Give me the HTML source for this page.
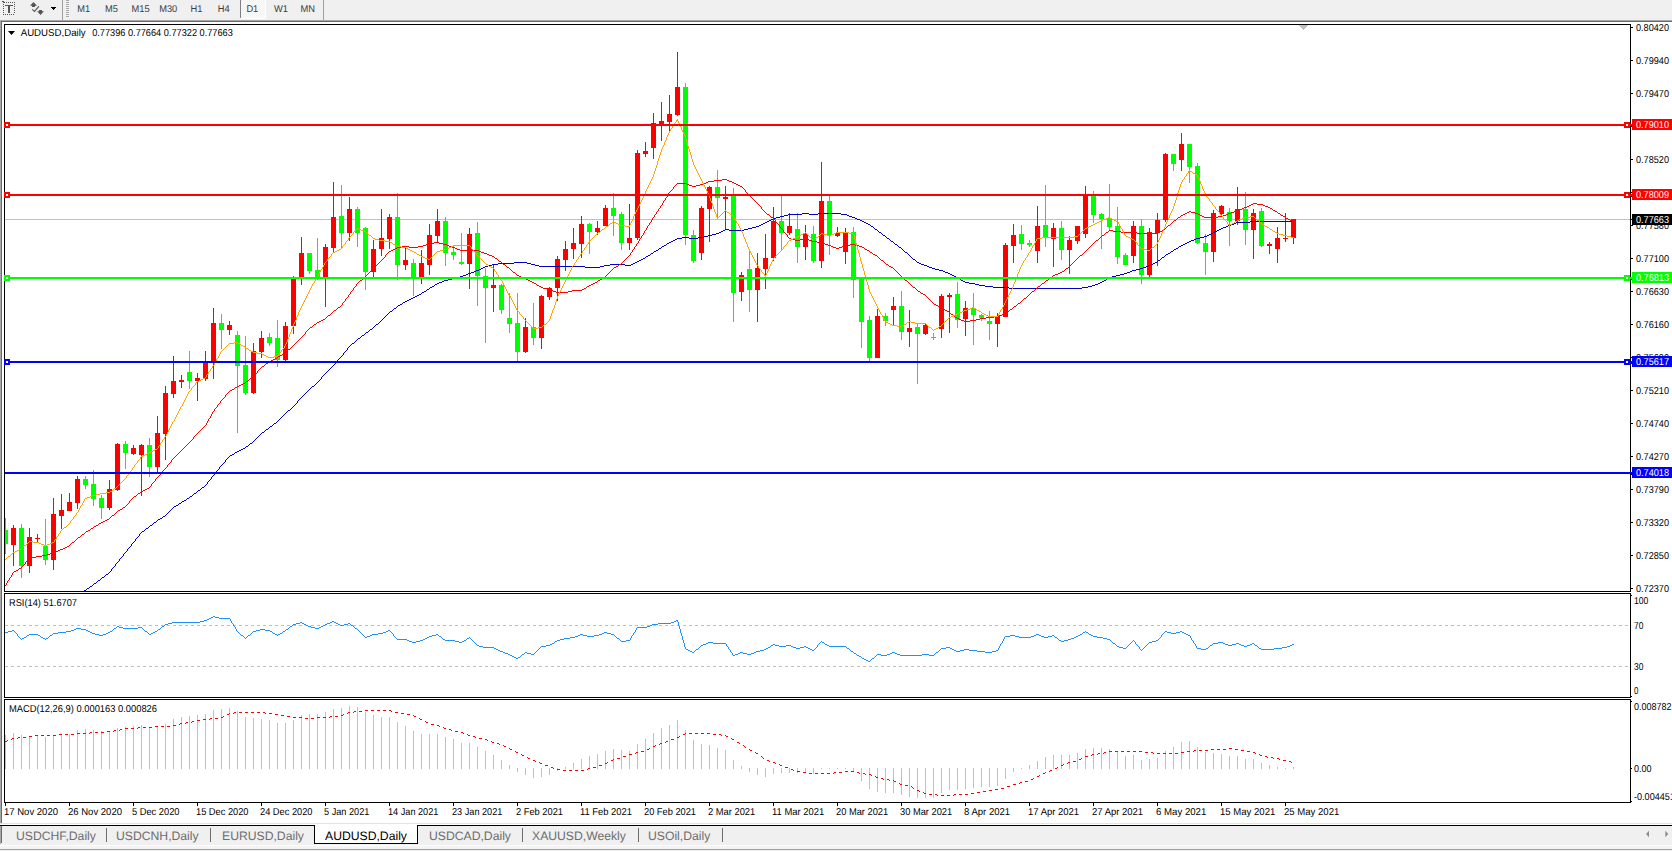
<!DOCTYPE html>
<html><head><meta charset="utf-8"><title>AUDUSD,Daily</title>
<style>
html,body{margin:0;padding:0;background:#fff}
body{width:1672px;height:851px;overflow:hidden;font-family:"Liberation Sans",sans-serif}
svg{display:block;font-family:"Liberation Sans",sans-serif}
</style></head><body>
<svg width="1672" height="851" viewBox="0 0 1672 851" shape-rendering="crispEdges" text-rendering="geometricPrecision">
<rect x="0" y="0" width="1672" height="851" fill="#fff"/>
<rect x="0" y="0" width="1672" height="20" fill="#f0f0f0"/>
<rect x="0" y="20" width="1672" height="1" fill="#a8a8a8"/>
<rect x="0" y="21" width="1672" height="1" fill="#6a6a6a"/>
<rect x="0" y="20" width="1" height="803" fill="#a8a8a8"/>
<rect x="1" y="21" width="1" height="802" fill="#6a6a6a"/>
<rect x="6" y="2" width="1" height="1" fill="#555"/>
<rect x="8" y="2" width="1" height="1" fill="#555"/>
<rect x="10" y="2" width="1" height="1" fill="#555"/>
<rect x="12" y="2" width="1" height="1" fill="#555"/>
<rect x="14" y="2" width="1" height="1" fill="#555"/>
<rect x="3" y="14" width="1" height="1" fill="#555"/>
<rect x="5" y="14" width="1" height="1" fill="#555"/>
<rect x="7" y="14" width="1" height="1" fill="#555"/>
<rect x="9" y="14" width="1" height="1" fill="#555"/>
<rect x="11" y="14" width="1" height="1" fill="#555"/>
<rect x="13" y="14" width="1" height="1" fill="#555"/>
<rect x="3" y="4" width="1" height="1" fill="#555"/>
<rect x="14" y="4" width="1" height="1" fill="#555"/>
<rect x="3" y="6" width="1" height="1" fill="#555"/>
<rect x="14" y="6" width="1" height="1" fill="#555"/>
<rect x="3" y="8" width="1" height="1" fill="#555"/>
<rect x="14" y="8" width="1" height="1" fill="#555"/>
<rect x="3" y="10" width="1" height="1" fill="#555"/>
<rect x="14" y="10" width="1" height="1" fill="#555"/>
<rect x="3" y="12" width="1" height="1" fill="#555"/>
<rect x="14" y="12" width="1" height="1" fill="#555"/>
<rect x="2" y="1" width="2" height="1" fill="#555"/>
<rect x="3" y="2" width="2" height="1" fill="#555"/>
<rect x="5" y="5" width="8" height="1" fill="#555"/>
<rect x="8" y="5" width="2" height="8" fill="#555"/>
<g shape-rendering="geometricPrecision">
<path d="M33.5 2 L37 5.8 L35 5.8 L35 7 L32 7 L32 5.8 L30 5.8 Z" fill="#555"/>
<path d="M40.5 15 L44 11.2 L42 11.2 L42 10 L39 10 L39 11.2 L37 11.2 Z" fill="#555"/>
<path d="M32.3 9.3 L34.5 11.4 L38.9 6.3" fill="none" stroke="#555" stroke-width="1.1"/>
</g>
<rect x="51" y="7" width="5" height="1" fill="#000"/>
<rect x="52" y="8" width="3" height="1" fill="#000"/>
<rect x="53" y="9" width="1" height="1" fill="#000"/>
<rect x="62" y="0" width="1" height="20" fill="#a0a0a0"/>
<rect x="66" y="0" width="3" height="1" fill="#a8a8a8"/>
<rect x="66" y="2" width="3" height="1" fill="#a8a8a8"/>
<rect x="66" y="4" width="3" height="1" fill="#a8a8a8"/>
<rect x="66" y="6" width="3" height="1" fill="#a8a8a8"/>
<rect x="66" y="8" width="3" height="1" fill="#a8a8a8"/>
<rect x="66" y="10" width="3" height="1" fill="#a8a8a8"/>
<rect x="66" y="12" width="3" height="1" fill="#a8a8a8"/>
<rect x="66" y="14" width="3" height="1" fill="#a8a8a8"/>
<rect x="66" y="16" width="3" height="1" fill="#a8a8a8"/>
<pattern id="chk" width="2" height="2" patternUnits="userSpaceOnUse"><rect width="2" height="2" fill="#f0f0f0"/><rect width="1" height="1" fill="#fff"/><rect x="1" y="1" width="1" height="1" fill="#fff"/></pattern>
<rect x="241" y="0" width="24" height="18" fill="url(#chk)"/>
<rect x="240" y="0" width="1" height="18" fill="#808080"/>
<rect x="240" y="18" width="26" height="1" fill="#fff"/>
<rect x="265" y="0" width="1" height="19" fill="#fff"/>
<text x="77.3" y="12" font-size="9.8" fill="#3c3c3c" text-anchor="start" textLength="12.9" lengthAdjust="spacingAndGlyphs">M1</text>
<text x="105.1" y="12" font-size="9.8" fill="#3c3c3c" text-anchor="start" textLength="12.9" lengthAdjust="spacingAndGlyphs">M5</text>
<text x="131.6" y="12" font-size="9.8" fill="#3c3c3c" text-anchor="start" textLength="18.1" lengthAdjust="spacingAndGlyphs">M15</text>
<text x="159.2" y="12" font-size="9.8" fill="#3c3c3c" text-anchor="start" textLength="18.1" lengthAdjust="spacingAndGlyphs">M30</text>
<text x="190.5" y="12" font-size="9.8" fill="#3c3c3c" text-anchor="start" textLength="11.9" lengthAdjust="spacingAndGlyphs">H1</text>
<text x="217.8" y="12" font-size="9.8" fill="#3c3c3c" text-anchor="start" textLength="11.9" lengthAdjust="spacingAndGlyphs">H4</text>
<text x="246.4" y="12" font-size="9.8" fill="#3c3c3c" text-anchor="start" textLength="11.9" lengthAdjust="spacingAndGlyphs">D1</text>
<text x="273.9" y="12" font-size="9.8" fill="#3c3c3c" text-anchor="start" textLength="14.0" lengthAdjust="spacingAndGlyphs">W1</text>
<text x="300.6" y="12" font-size="9.8" fill="#3c3c3c" text-anchor="start" textLength="14.5" lengthAdjust="spacingAndGlyphs">MN</text>
<rect x="323" y="0" width="1" height="20" fill="#a0a0a0"/>
<rect x="4" y="24" width="1627" height="1" fill="#000"/>
<rect x="4" y="591" width="1627" height="1" fill="#000"/>
<rect x="4" y="24" width="1" height="568" fill="#000"/>
<rect x="1630" y="24" width="1" height="568" fill="#000"/>
<rect x="4" y="593" width="1627" height="1" fill="#000"/>
<rect x="4" y="697" width="1627" height="1" fill="#000"/>
<rect x="4" y="593" width="1" height="105" fill="#000"/>
<rect x="1630" y="593" width="1" height="105" fill="#000"/>
<rect x="4" y="699" width="1627" height="1" fill="#000"/>
<rect x="4" y="802" width="1627" height="1" fill="#000"/>
<rect x="4" y="699" width="1" height="104" fill="#000"/>
<rect x="1630" y="699" width="1" height="104" fill="#000"/>
<rect x="1299" y="25" width="9" height="1" fill="#c0c0c0"/>
<rect x="1300" y="26" width="7" height="1" fill="#c0c0c0"/>
<rect x="1301" y="27" width="5" height="1" fill="#c0c0c0"/>
<rect x="1302" y="28" width="3" height="1" fill="#c0c0c0"/>
<rect x="1303" y="29" width="1" height="1" fill="#c0c0c0"/>
<rect x="1631" y="27" width="2" height="1" fill="#000"/>
<text x="1636" y="31" font-size="10" fill="#000" text-anchor="start" textLength="33" lengthAdjust="spacingAndGlyphs">0.80420</text>
<rect x="1631" y="60" width="2" height="1" fill="#000"/>
<text x="1636" y="64" font-size="10" fill="#000" text-anchor="start" textLength="33" lengthAdjust="spacingAndGlyphs">0.79940</text>
<rect x="1631" y="93" width="2" height="1" fill="#000"/>
<text x="1636" y="97" font-size="10" fill="#000" text-anchor="start" textLength="33" lengthAdjust="spacingAndGlyphs">0.79470</text>
<rect x="1631" y="126" width="2" height="1" fill="#000"/>
<text x="1636" y="130" font-size="10" fill="#000" text-anchor="start" textLength="33" lengthAdjust="spacingAndGlyphs">0.78990</text>
<rect x="1631" y="159" width="2" height="1" fill="#000"/>
<text x="1636" y="163" font-size="10" fill="#000" text-anchor="start" textLength="33" lengthAdjust="spacingAndGlyphs">0.78520</text>
<rect x="1631" y="192" width="2" height="1" fill="#000"/>
<text x="1636" y="196" font-size="10" fill="#000" text-anchor="start" textLength="33" lengthAdjust="spacingAndGlyphs">0.78050</text>
<rect x="1631" y="225" width="2" height="1" fill="#000"/>
<text x="1636" y="229" font-size="10" fill="#000" text-anchor="start" textLength="33" lengthAdjust="spacingAndGlyphs">0.77580</text>
<rect x="1631" y="258" width="2" height="1" fill="#000"/>
<text x="1636" y="262" font-size="10" fill="#000" text-anchor="start" textLength="33" lengthAdjust="spacingAndGlyphs">0.77100</text>
<rect x="1631" y="291" width="2" height="1" fill="#000"/>
<text x="1636" y="295" font-size="10" fill="#000" text-anchor="start" textLength="33" lengthAdjust="spacingAndGlyphs">0.76630</text>
<rect x="1631" y="324" width="2" height="1" fill="#000"/>
<text x="1636" y="328" font-size="10" fill="#000" text-anchor="start" textLength="33" lengthAdjust="spacingAndGlyphs">0.76160</text>
<rect x="1631" y="357" width="2" height="1" fill="#000"/>
<text x="1636" y="361" font-size="10" fill="#000" text-anchor="start" textLength="33" lengthAdjust="spacingAndGlyphs">0.75690</text>
<rect x="1631" y="390" width="2" height="1" fill="#000"/>
<text x="1636" y="394" font-size="10" fill="#000" text-anchor="start" textLength="33" lengthAdjust="spacingAndGlyphs">0.75210</text>
<rect x="1631" y="423" width="2" height="1" fill="#000"/>
<text x="1636" y="427" font-size="10" fill="#000" text-anchor="start" textLength="33" lengthAdjust="spacingAndGlyphs">0.74740</text>
<rect x="1631" y="456" width="2" height="1" fill="#000"/>
<text x="1636" y="460" font-size="10" fill="#000" text-anchor="start" textLength="33" lengthAdjust="spacingAndGlyphs">0.74270</text>
<rect x="1631" y="489" width="2" height="1" fill="#000"/>
<text x="1636" y="493" font-size="10" fill="#000" text-anchor="start" textLength="33" lengthAdjust="spacingAndGlyphs">0.73790</text>
<rect x="1631" y="522" width="2" height="1" fill="#000"/>
<text x="1636" y="526" font-size="10" fill="#000" text-anchor="start" textLength="33" lengthAdjust="spacingAndGlyphs">0.73320</text>
<rect x="1631" y="555" width="2" height="1" fill="#000"/>
<text x="1636" y="559" font-size="10" fill="#000" text-anchor="start" textLength="33" lengthAdjust="spacingAndGlyphs">0.72850</text>
<rect x="1631" y="588" width="2" height="1" fill="#000"/>
<text x="1636" y="592" font-size="10" fill="#000" text-anchor="start" textLength="33" lengthAdjust="spacingAndGlyphs">0.72370</text>
<clipPath id="cm"><rect x="5" y="25" width="1625" height="566"/></clipPath>
<g clip-path="url(#cm)">
<rect x="5" y="219" width="1625" height="1" fill="#c0c0c0"/>
<rect x="5" y="518" width="1" height="36" fill="#00ff00"/>
<rect x="3" y="530" width="5" height="14" fill="#00ff00"/>
<rect x="13" y="525" width="1" height="41" fill="#ff0000"/>
<rect x="11" y="528" width="5" height="17" fill="#ff0000"/>
<rect x="21" y="524" width="1" height="54" fill="#00ff00"/>
<rect x="19" y="528" width="5" height="38" fill="#00ff00"/>
<rect x="29" y="528" width="1" height="45" fill="#ff0000"/>
<rect x="27" y="537" width="5" height="29" fill="#ff0000"/>
<rect x="37" y="534" width="1" height="8" fill="#ff0000"/>
<rect x="35" y="538" width="5" height="1" fill="#ff0000"/>
<rect x="45" y="519" width="1" height="46" fill="#00ff00"/>
<rect x="43" y="546" width="5" height="14" fill="#00ff00"/>
<rect x="53" y="498" width="1" height="72" fill="#ff0000"/>
<rect x="51" y="514" width="5" height="46" fill="#ff0000"/>
<rect x="61" y="494" width="1" height="35" fill="#ff0000"/>
<rect x="59" y="510" width="5" height="6" fill="#ff0000"/>
<rect x="69" y="493" width="1" height="18" fill="#ff0000"/>
<rect x="67" y="502" width="5" height="9" fill="#ff0000"/>
<rect x="77" y="476" width="1" height="33" fill="#ff0000"/>
<rect x="75" y="479" width="5" height="24" fill="#ff0000"/>
<rect x="85" y="476" width="1" height="13" fill="#00ff00"/>
<rect x="83" y="479" width="5" height="6" fill="#00ff00"/>
<rect x="93" y="470" width="1" height="36" fill="#00ff00"/>
<rect x="91" y="484" width="5" height="15" fill="#00ff00"/>
<rect x="101" y="495" width="1" height="24" fill="#00ff00"/>
<rect x="99" y="498" width="5" height="10" fill="#00ff00"/>
<rect x="109" y="480" width="1" height="30" fill="#ff0000"/>
<rect x="107" y="489" width="5" height="19" fill="#ff0000"/>
<rect x="117" y="443" width="1" height="48" fill="#ff0000"/>
<rect x="115" y="444" width="5" height="46" fill="#ff0000"/>
<rect x="125" y="441" width="1" height="28" fill="#00ff00"/>
<rect x="123" y="444" width="5" height="9" fill="#00ff00"/>
<rect x="133" y="445" width="1" height="10" fill="#ff0000"/>
<rect x="131" y="448" width="5" height="6" fill="#ff0000"/>
<rect x="141" y="444" width="1" height="52" fill="#ff0000"/>
<rect x="139" y="445" width="5" height="10" fill="#ff0000"/>
<rect x="149" y="438" width="1" height="39" fill="#00ff00"/>
<rect x="147" y="445" width="5" height="22" fill="#00ff00"/>
<rect x="157" y="416" width="1" height="57" fill="#ff0000"/>
<rect x="155" y="433" width="5" height="34" fill="#ff0000"/>
<rect x="165" y="386" width="1" height="74" fill="#ff0000"/>
<rect x="163" y="393" width="5" height="41" fill="#ff0000"/>
<rect x="173" y="356" width="1" height="42" fill="#ff0000"/>
<rect x="171" y="381" width="5" height="13" fill="#ff0000"/>
<rect x="181" y="375" width="1" height="13" fill="#ff0000"/>
<rect x="179" y="380" width="5" height="2" fill="#ff0000"/>
<rect x="189" y="351" width="1" height="38" fill="#00ff00"/>
<rect x="187" y="372" width="5" height="9" fill="#00ff00"/>
<rect x="197" y="373" width="1" height="28" fill="#ff0000"/>
<rect x="195" y="378" width="5" height="3" fill="#ff0000"/>
<rect x="205" y="351" width="1" height="30" fill="#ff0000"/>
<rect x="203" y="362" width="5" height="17" fill="#ff0000"/>
<rect x="213" y="308" width="1" height="71" fill="#ff0000"/>
<rect x="211" y="323" width="5" height="39" fill="#ff0000"/>
<rect x="221" y="314" width="1" height="35" fill="#00ff00"/>
<rect x="219" y="323" width="5" height="7" fill="#00ff00"/>
<rect x="229" y="321" width="1" height="14" fill="#ff0000"/>
<rect x="227" y="325" width="5" height="5" fill="#ff0000"/>
<rect x="237" y="331" width="1" height="102" fill="#00ff00"/>
<rect x="235" y="335" width="5" height="31" fill="#00ff00"/>
<rect x="245" y="336" width="1" height="59" fill="#00ff00"/>
<rect x="243" y="365" width="5" height="28" fill="#00ff00"/>
<rect x="253" y="343" width="1" height="51" fill="#ff0000"/>
<rect x="251" y="351" width="5" height="42" fill="#ff0000"/>
<rect x="261" y="331" width="1" height="27" fill="#ff0000"/>
<rect x="259" y="338" width="5" height="14" fill="#ff0000"/>
<rect x="269" y="333" width="1" height="13" fill="#00ff00"/>
<rect x="267" y="337" width="5" height="6" fill="#00ff00"/>
<rect x="277" y="320" width="1" height="47" fill="#00ff00"/>
<rect x="275" y="338" width="5" height="22" fill="#00ff00"/>
<rect x="285" y="322" width="1" height="39" fill="#ff0000"/>
<rect x="283" y="326" width="5" height="34" fill="#ff0000"/>
<rect x="293" y="276" width="1" height="58" fill="#ff0000"/>
<rect x="291" y="277" width="5" height="49" fill="#ff0000"/>
<rect x="301" y="237" width="1" height="48" fill="#ff0000"/>
<rect x="299" y="253" width="5" height="25" fill="#ff0000"/>
<rect x="309" y="253" width="1" height="21" fill="#00ff00"/>
<rect x="307" y="253" width="5" height="18" fill="#00ff00"/>
<rect x="317" y="238" width="1" height="42" fill="#00ff00"/>
<rect x="315" y="270" width="5" height="9" fill="#00ff00"/>
<rect x="325" y="244" width="1" height="63" fill="#ff0000"/>
<rect x="323" y="247" width="5" height="31" fill="#ff0000"/>
<rect x="333" y="182" width="1" height="70" fill="#ff0000"/>
<rect x="331" y="217" width="5" height="31" fill="#ff0000"/>
<rect x="341" y="185" width="1" height="64" fill="#00ff00"/>
<rect x="339" y="216" width="5" height="17" fill="#00ff00"/>
<rect x="349" y="197" width="1" height="44" fill="#ff0000"/>
<rect x="347" y="209" width="5" height="24" fill="#ff0000"/>
<rect x="357" y="207" width="1" height="40" fill="#00ff00"/>
<rect x="355" y="209" width="5" height="24" fill="#00ff00"/>
<rect x="365" y="227" width="1" height="63" fill="#00ff00"/>
<rect x="363" y="228" width="5" height="44" fill="#00ff00"/>
<rect x="373" y="240" width="1" height="37" fill="#ff0000"/>
<rect x="371" y="249" width="5" height="23" fill="#ff0000"/>
<rect x="381" y="209" width="1" height="47" fill="#ff0000"/>
<rect x="379" y="238" width="5" height="11" fill="#ff0000"/>
<rect x="389" y="214" width="1" height="35" fill="#ff0000"/>
<rect x="387" y="217" width="5" height="22" fill="#ff0000"/>
<rect x="397" y="193" width="1" height="87" fill="#00ff00"/>
<rect x="395" y="217" width="5" height="48" fill="#00ff00"/>
<rect x="405" y="248" width="1" height="22" fill="#ff0000"/>
<rect x="403" y="260" width="5" height="5" fill="#ff0000"/>
<rect x="413" y="259" width="1" height="37" fill="#00ff00"/>
<rect x="411" y="263" width="5" height="15" fill="#00ff00"/>
<rect x="421" y="250" width="1" height="34" fill="#ff0000"/>
<rect x="419" y="263" width="5" height="15" fill="#ff0000"/>
<rect x="429" y="224" width="1" height="51" fill="#ff0000"/>
<rect x="427" y="235" width="5" height="30" fill="#ff0000"/>
<rect x="437" y="209" width="1" height="34" fill="#ff0000"/>
<rect x="435" y="221" width="5" height="15" fill="#ff0000"/>
<rect x="445" y="217" width="1" height="49" fill="#00ff00"/>
<rect x="443" y="221" width="5" height="32" fill="#00ff00"/>
<rect x="453" y="245" width="1" height="15" fill="#00ff00"/>
<rect x="451" y="252" width="5" height="3" fill="#00ff00"/>
<rect x="461" y="233" width="1" height="32" fill="#00ff00"/>
<rect x="459" y="262" width="5" height="2" fill="#00ff00"/>
<rect x="469" y="228" width="1" height="61" fill="#ff0000"/>
<rect x="467" y="234" width="5" height="30" fill="#ff0000"/>
<rect x="477" y="222" width="1" height="84" fill="#00ff00"/>
<rect x="475" y="233" width="5" height="43" fill="#00ff00"/>
<rect x="485" y="268" width="1" height="75" fill="#00ff00"/>
<rect x="483" y="276" width="5" height="12" fill="#00ff00"/>
<rect x="493" y="264" width="1" height="48" fill="#ff0000"/>
<rect x="491" y="285" width="5" height="3" fill="#ff0000"/>
<rect x="501" y="284" width="1" height="30" fill="#00ff00"/>
<rect x="499" y="285" width="5" height="25" fill="#00ff00"/>
<rect x="509" y="293" width="1" height="40" fill="#00ff00"/>
<rect x="507" y="318" width="5" height="6" fill="#00ff00"/>
<rect x="517" y="293" width="1" height="68" fill="#00ff00"/>
<rect x="515" y="323" width="5" height="29" fill="#00ff00"/>
<rect x="525" y="318" width="1" height="35" fill="#ff0000"/>
<rect x="523" y="327" width="5" height="25" fill="#ff0000"/>
<rect x="533" y="303" width="1" height="42" fill="#00ff00"/>
<rect x="531" y="327" width="5" height="11" fill="#00ff00"/>
<rect x="541" y="295" width="1" height="54" fill="#ff0000"/>
<rect x="539" y="296" width="5" height="42" fill="#ff0000"/>
<rect x="549" y="287" width="1" height="13" fill="#ff0000"/>
<rect x="547" y="288" width="5" height="9" fill="#ff0000"/>
<rect x="557" y="256" width="1" height="45" fill="#ff0000"/>
<rect x="555" y="259" width="5" height="29" fill="#ff0000"/>
<rect x="565" y="241" width="1" height="30" fill="#ff0000"/>
<rect x="563" y="249" width="5" height="11" fill="#ff0000"/>
<rect x="573" y="228" width="1" height="31" fill="#ff0000"/>
<rect x="571" y="243" width="5" height="6" fill="#ff0000"/>
<rect x="581" y="216" width="1" height="42" fill="#ff0000"/>
<rect x="579" y="224" width="5" height="20" fill="#ff0000"/>
<rect x="589" y="223" width="1" height="31" fill="#00ff00"/>
<rect x="587" y="224" width="5" height="8" fill="#00ff00"/>
<rect x="597" y="221" width="1" height="14" fill="#ff0000"/>
<rect x="595" y="228" width="5" height="4" fill="#ff0000"/>
<rect x="605" y="205" width="1" height="21" fill="#ff0000"/>
<rect x="603" y="208" width="5" height="18" fill="#ff0000"/>
<rect x="613" y="193" width="1" height="43" fill="#00ff00"/>
<rect x="611" y="208" width="5" height="8" fill="#00ff00"/>
<rect x="621" y="212" width="1" height="38" fill="#00ff00"/>
<rect x="619" y="214" width="5" height="29" fill="#00ff00"/>
<rect x="629" y="204" width="1" height="46" fill="#ff0000"/>
<rect x="627" y="238" width="5" height="5" fill="#ff0000"/>
<rect x="637" y="150" width="1" height="90" fill="#ff0000"/>
<rect x="635" y="153" width="5" height="85" fill="#ff0000"/>
<rect x="645" y="142" width="1" height="15" fill="#ff0000"/>
<rect x="643" y="151" width="5" height="3" fill="#ff0000"/>
<rect x="653" y="113" width="1" height="46" fill="#ff0000"/>
<rect x="651" y="123" width="5" height="25" fill="#ff0000"/>
<rect x="661" y="102" width="1" height="39" fill="#ff0000"/>
<rect x="659" y="121" width="5" height="3" fill="#ff0000"/>
<rect x="669" y="95" width="1" height="36" fill="#ff0000"/>
<rect x="667" y="114" width="5" height="8" fill="#ff0000"/>
<rect x="677" y="52" width="1" height="64" fill="#ff0000"/>
<rect x="675" y="87" width="5" height="28" fill="#ff0000"/>
<rect x="685" y="83" width="1" height="162" fill="#00ff00"/>
<rect x="683" y="87" width="5" height="148" fill="#00ff00"/>
<rect x="693" y="230" width="1" height="33" fill="#00ff00"/>
<rect x="691" y="235" width="5" height="26" fill="#00ff00"/>
<rect x="701" y="206" width="1" height="54" fill="#ff0000"/>
<rect x="699" y="208" width="5" height="45" fill="#ff0000"/>
<rect x="709" y="186" width="1" height="56" fill="#ff0000"/>
<rect x="707" y="187" width="5" height="22" fill="#ff0000"/>
<rect x="717" y="170" width="1" height="49" fill="#00ff00"/>
<rect x="715" y="187" width="5" height="11" fill="#00ff00"/>
<rect x="725" y="186" width="1" height="43" fill="#ff0000"/>
<rect x="723" y="197" width="5" height="2" fill="#ff0000"/>
<rect x="733" y="188" width="1" height="134" fill="#00ff00"/>
<rect x="731" y="195" width="5" height="98" fill="#00ff00"/>
<rect x="741" y="272" width="1" height="29" fill="#ff0000"/>
<rect x="739" y="275" width="5" height="17" fill="#ff0000"/>
<rect x="749" y="251" width="1" height="61" fill="#00ff00"/>
<rect x="747" y="269" width="5" height="21" fill="#00ff00"/>
<rect x="757" y="253" width="1" height="69" fill="#ff0000"/>
<rect x="755" y="268" width="5" height="22" fill="#ff0000"/>
<rect x="765" y="234" width="1" height="55" fill="#ff0000"/>
<rect x="763" y="258" width="5" height="11" fill="#ff0000"/>
<rect x="773" y="207" width="1" height="54" fill="#ff0000"/>
<rect x="771" y="221" width="5" height="37" fill="#ff0000"/>
<rect x="781" y="196" width="1" height="54" fill="#00ff00"/>
<rect x="779" y="221" width="5" height="12" fill="#00ff00"/>
<rect x="789" y="213" width="1" height="22" fill="#ff0000"/>
<rect x="787" y="226" width="5" height="7" fill="#ff0000"/>
<rect x="797" y="213" width="1" height="50" fill="#00ff00"/>
<rect x="795" y="229" width="5" height="18" fill="#00ff00"/>
<rect x="805" y="225" width="1" height="35" fill="#ff0000"/>
<rect x="803" y="234" width="5" height="13" fill="#ff0000"/>
<rect x="813" y="226" width="1" height="37" fill="#00ff00"/>
<rect x="811" y="234" width="5" height="27" fill="#00ff00"/>
<rect x="821" y="162" width="1" height="106" fill="#ff0000"/>
<rect x="819" y="201" width="5" height="60" fill="#ff0000"/>
<rect x="829" y="196" width="1" height="59" fill="#00ff00"/>
<rect x="827" y="201" width="5" height="34" fill="#00ff00"/>
<rect x="837" y="227" width="1" height="10" fill="#ff0000"/>
<rect x="835" y="233" width="5" height="3" fill="#ff0000"/>
<rect x="845" y="228" width="1" height="36" fill="#ff0000"/>
<rect x="843" y="233" width="5" height="19" fill="#ff0000"/>
<rect x="853" y="227" width="1" height="71" fill="#00ff00"/>
<rect x="851" y="232" width="5" height="48" fill="#00ff00"/>
<rect x="861" y="278" width="1" height="70" fill="#00ff00"/>
<rect x="859" y="278" width="5" height="44" fill="#00ff00"/>
<rect x="869" y="316" width="1" height="45" fill="#00ff00"/>
<rect x="867" y="320" width="5" height="38" fill="#00ff00"/>
<rect x="877" y="309" width="1" height="49" fill="#ff0000"/>
<rect x="875" y="316" width="5" height="42" fill="#ff0000"/>
<rect x="885" y="313" width="1" height="13" fill="#00ff00"/>
<rect x="883" y="316" width="5" height="5" fill="#00ff00"/>
<rect x="893" y="297" width="1" height="28" fill="#ff0000"/>
<rect x="891" y="306" width="5" height="4" fill="#ff0000"/>
<rect x="901" y="291" width="1" height="49" fill="#00ff00"/>
<rect x="899" y="306" width="5" height="26" fill="#00ff00"/>
<rect x="909" y="310" width="1" height="37" fill="#ff0000"/>
<rect x="907" y="328" width="5" height="4" fill="#ff0000"/>
<rect x="917" y="323" width="1" height="61" fill="#00ff00"/>
<rect x="915" y="327" width="5" height="7" fill="#00ff00"/>
<rect x="925" y="323" width="1" height="12" fill="#ff0000"/>
<rect x="923" y="325" width="5" height="9" fill="#ff0000"/>
<rect x="933" y="333" width="1" height="7" fill="#00ff00"/>
<rect x="931" y="337" width="5" height="1" fill="#00ff00"/>
<rect x="941" y="294" width="1" height="44" fill="#ff0000"/>
<rect x="939" y="296" width="5" height="33" fill="#ff0000"/>
<rect x="949" y="293" width="1" height="40" fill="#ff0000"/>
<rect x="947" y="295" width="5" height="2" fill="#ff0000"/>
<rect x="957" y="282" width="1" height="46" fill="#00ff00"/>
<rect x="955" y="294" width="5" height="26" fill="#00ff00"/>
<rect x="965" y="301" width="1" height="35" fill="#ff0000"/>
<rect x="963" y="308" width="5" height="11" fill="#ff0000"/>
<rect x="973" y="293" width="1" height="52" fill="#00ff00"/>
<rect x="971" y="308" width="5" height="7" fill="#00ff00"/>
<rect x="981" y="314" width="1" height="7" fill="#00ff00"/>
<rect x="979" y="315" width="5" height="3" fill="#00ff00"/>
<rect x="989" y="311" width="1" height="29" fill="#00ff00"/>
<rect x="987" y="321" width="5" height="3" fill="#00ff00"/>
<rect x="997" y="313" width="1" height="34" fill="#ff0000"/>
<rect x="995" y="316" width="5" height="8" fill="#ff0000"/>
<rect x="1005" y="243" width="1" height="74" fill="#ff0000"/>
<rect x="1003" y="245" width="5" height="72" fill="#ff0000"/>
<rect x="1013" y="224" width="1" height="39" fill="#ff0000"/>
<rect x="1011" y="235" width="5" height="11" fill="#ff0000"/>
<rect x="1021" y="225" width="1" height="25" fill="#00ff00"/>
<rect x="1019" y="234" width="5" height="10" fill="#00ff00"/>
<rect x="1029" y="240" width="1" height="7" fill="#00ff00"/>
<rect x="1027" y="243" width="5" height="2" fill="#00ff00"/>
<rect x="1037" y="206" width="1" height="57" fill="#ff0000"/>
<rect x="1035" y="226" width="5" height="25" fill="#ff0000"/>
<rect x="1045" y="185" width="1" height="62" fill="#00ff00"/>
<rect x="1043" y="225" width="5" height="12" fill="#00ff00"/>
<rect x="1053" y="223" width="1" height="44" fill="#ff0000"/>
<rect x="1051" y="228" width="5" height="11" fill="#ff0000"/>
<rect x="1061" y="221" width="1" height="39" fill="#00ff00"/>
<rect x="1059" y="228" width="5" height="22" fill="#00ff00"/>
<rect x="1069" y="236" width="1" height="38" fill="#ff0000"/>
<rect x="1067" y="240" width="5" height="10" fill="#ff0000"/>
<rect x="1077" y="226" width="1" height="18" fill="#ff0000"/>
<rect x="1075" y="226" width="5" height="15" fill="#ff0000"/>
<rect x="1085" y="186" width="1" height="52" fill="#ff0000"/>
<rect x="1083" y="195" width="5" height="39" fill="#ff0000"/>
<rect x="1093" y="191" width="1" height="32" fill="#00ff00"/>
<rect x="1091" y="196" width="5" height="19" fill="#00ff00"/>
<rect x="1101" y="213" width="1" height="36" fill="#00ff00"/>
<rect x="1099" y="214" width="5" height="5" fill="#00ff00"/>
<rect x="1109" y="184" width="1" height="47" fill="#00ff00"/>
<rect x="1107" y="218" width="5" height="9" fill="#00ff00"/>
<rect x="1117" y="207" width="1" height="57" fill="#00ff00"/>
<rect x="1115" y="226" width="5" height="31" fill="#00ff00"/>
<rect x="1125" y="253" width="1" height="12" fill="#00ff00"/>
<rect x="1123" y="255" width="5" height="10" fill="#00ff00"/>
<rect x="1133" y="221" width="1" height="42" fill="#ff0000"/>
<rect x="1131" y="226" width="5" height="30" fill="#ff0000"/>
<rect x="1141" y="219" width="1" height="65" fill="#00ff00"/>
<rect x="1139" y="226" width="5" height="49" fill="#00ff00"/>
<rect x="1149" y="228" width="1" height="49" fill="#ff0000"/>
<rect x="1147" y="232" width="5" height="43" fill="#ff0000"/>
<rect x="1157" y="213" width="1" height="53" fill="#ff0000"/>
<rect x="1155" y="220" width="5" height="13" fill="#ff0000"/>
<rect x="1165" y="153" width="1" height="69" fill="#ff0000"/>
<rect x="1163" y="154" width="5" height="66" fill="#ff0000"/>
<rect x="1173" y="154" width="1" height="17" fill="#00ff00"/>
<rect x="1171" y="154" width="5" height="10" fill="#00ff00"/>
<rect x="1181" y="133" width="1" height="38" fill="#ff0000"/>
<rect x="1179" y="144" width="5" height="16" fill="#ff0000"/>
<rect x="1189" y="144" width="1" height="39" fill="#00ff00"/>
<rect x="1187" y="144" width="5" height="23" fill="#00ff00"/>
<rect x="1197" y="163" width="1" height="81" fill="#00ff00"/>
<rect x="1195" y="166" width="5" height="77" fill="#00ff00"/>
<rect x="1205" y="234" width="1" height="41" fill="#00ff00"/>
<rect x="1203" y="243" width="5" height="9" fill="#00ff00"/>
<rect x="1213" y="210" width="1" height="52" fill="#ff0000"/>
<rect x="1211" y="213" width="5" height="39" fill="#ff0000"/>
<rect x="1221" y="205" width="1" height="11" fill="#ff0000"/>
<rect x="1219" y="206" width="5" height="8" fill="#ff0000"/>
<rect x="1229" y="208" width="1" height="38" fill="#00ff00"/>
<rect x="1227" y="212" width="5" height="9" fill="#00ff00"/>
<rect x="1237" y="187" width="1" height="38" fill="#ff0000"/>
<rect x="1235" y="209" width="5" height="12" fill="#ff0000"/>
<rect x="1245" y="192" width="1" height="53" fill="#00ff00"/>
<rect x="1243" y="209" width="5" height="21" fill="#00ff00"/>
<rect x="1253" y="209" width="1" height="50" fill="#ff0000"/>
<rect x="1251" y="213" width="5" height="17" fill="#ff0000"/>
<rect x="1261" y="208" width="1" height="39" fill="#00ff00"/>
<rect x="1259" y="211" width="5" height="35" fill="#00ff00"/>
<rect x="1269" y="242" width="1" height="12" fill="#ff0000"/>
<rect x="1267" y="244" width="5" height="2" fill="#ff0000"/>
<rect x="1277" y="227" width="1" height="36" fill="#ff0000"/>
<rect x="1275" y="238" width="5" height="11" fill="#ff0000"/>
<rect x="1285" y="213" width="1" height="29" fill="#ff0000"/>
<rect x="1283" y="238" width="5" height="1" fill="#ff0000"/>
<rect x="1293" y="219" width="1" height="25" fill="#ff0000"/>
<rect x="1291" y="219" width="5" height="19" fill="#ff0000"/>
<path d="M802 213.5h7M818 213.5h23M788 214.5h14M809 214.5h9M841 214.5h6M784 215.5h4M847 215.5h2M780 216.5h4M849 216.5h3M776 217.5h4M852 217.5h3M773 218.5h3M855 218.5h2M771 219.5h2M857 219.5h3M769 220.5h2M860 220.5h2M767 221.5h2M862 221.5h2M1250 221.5h44M765 222.5h2M864 222.5h2M1236 222.5h14M763 223.5h2M866 223.5h2M1234 223.5h2M761 224.5h2M868 224.5h2M1231 224.5h3M759 225.5h2M1228 225.5h3M756 226.5h3M871 226.5h2M1226 226.5h2M752 227.5h4M1223 227.5h3M748 228.5h4M1221 228.5h2M725 229.5h4M744 229.5h4M875 229.5h2M1219 229.5h2M723 230.5h2M729 230.5h15M1217 230.5h2M721 231.5h2M1215 231.5h2M719 232.5h2M879 232.5h2M1213 232.5h2M716 233.5h3M1211 233.5h2M712 234.5h4M1209 234.5h2M708 235.5h4M883 235.5h2M1207 235.5h2M704 236.5h4M1204 236.5h3M682 237.5h7M698 237.5h6M1200 237.5h4M677 238.5h5M689 238.5h9M887 238.5h2M1196 238.5h4M675 239.5h2M1194 239.5h2M673 240.5h2M1191 240.5h3M671 241.5h2M891 241.5h2M1189 241.5h2M669 242.5h2M1187 242.5h2M667 243.5h2M1185 243.5h2M895 244.5h2M1183 244.5h2M664 245.5h2M1181 245.5h2M662 246.5h2M1179 246.5h2M899 247.5h2M659 248.5h2M1176 248.5h2M1174 249.5h2M656 250.5h2M654 251.5h2M1171 251.5h2M905 252.5h2M651 253.5h2M1168 253.5h2M1166 254.5h2M648 255.5h2M646 256.5h2M1162 257.5h2M643 258.5h2M641 259.5h2M913 259.5h2M639 260.5h2M1158 260.5h2M637 261.5h2M514 262.5h13M635 262.5h2M917 262.5h2M1155 262.5h2M498 263.5h16M527 263.5h4M633 263.5h2M919 263.5h2M1153 263.5h2M492 264.5h6M531 264.5h4M610 264.5h15M631 264.5h2M921 264.5h3M1151 264.5h2M488 265.5h4M535 265.5h4M604 265.5h6M625 265.5h6M924 265.5h3M1148 265.5h3M485 266.5h3M539 266.5h46M600 266.5h4M927 266.5h2M1146 266.5h2M483 267.5h2M585 267.5h15M929 267.5h3M1143 267.5h3M481 268.5h2M932 268.5h3M1140 268.5h3M479 269.5h2M935 269.5h4M1136 269.5h4M476 270.5h3M939 270.5h4M1132 270.5h4M474 271.5h2M943 271.5h2M1130 271.5h2M471 272.5h3M945 272.5h3M1127 272.5h3M468 273.5h3M948 273.5h2M1124 273.5h3M466 274.5h2M950 274.5h2M1120 274.5h4M463 275.5h3M952 275.5h2M1116 275.5h4M460 276.5h3M954 276.5h2M1112 276.5h4M456 277.5h4M956 277.5h2M1109 277.5h3M452 278.5h4M958 278.5h2M1107 278.5h2M448 279.5h4M444 280.5h4M961 280.5h2M1104 280.5h2M442 281.5h2M963 281.5h2M1102 281.5h2M439 282.5h3M965 282.5h4M1100 282.5h2M437 283.5h2M969 283.5h6M1098 283.5h2M435 284.5h2M975 284.5h4M1095 284.5h3M979 285.5h6M1092 285.5h3M432 286.5h2M985 286.5h8M1088 286.5h4M430 287.5h2M993 287.5h16M1082 287.5h6M1009 288.5h73M427 289.5h2M424 291.5h2M422 292.5h2M419 294.5h2M417 295.5h2M415 296.5h2M413 297.5h2M411 298.5h2M409 299.5h2M407 300.5h2M405 301.5h2M403 302.5h2M400 304.5h2M398 305.5h2M394 308.5h2M390 311.5h2M376 324.5h2M370 329.5h2M366 332.5h2M362 335.5h2M358 338.5h2M352 343.5h2M312 386.5h2M288 410.5h2M274 423.5h2M270 426.5h2M266 429.5h2M262 432.5h2M250 443.5h2M246 446.5h2M243 448.5h2M241 449.5h2M239 450.5h2M237 451.5h2M235 452.5h2M232 454.5h2M230 455.5h2M202 487.5h2M198 490.5h2M194 493.5h2M190 496.5h2M187 498.5h2M184 500.5h2M182 501.5h2M179 503.5h2M176 505.5h2M174 506.5h2M163 516.5h2M160 518.5h2M158 519.5h2M154 522.5h2M150 525.5h2M146 528.5h2M142 531.5h2M106 574.5h2M102 577.5h2M98 580.5h2M94 583.5h2M90 586.5h2M87 588.5h2M84 590.5h2M86.5 589v1M89.5 587v1M92.5 585v1M93.5 584v1M96.5 582v1M97.5 581v1M100.5 579v1M101.5 578v1M104.5 576v1M105.5 575v1M108.5 573v1M109.5 572v1M110.5 571v1M111.5 569v2M112.5 568v1M113.5 567v1M114.5 566v1M115.5 564v2M116.5 563v1M117.5 562v1M118.5 561v1M119.5 559v2M120.5 558v1M121.5 557v1M122.5 556v1M123.5 554v2M124.5 553v1M125.5 552v1M126.5 551v1M127.5 549v2M128.5 548v1M129.5 547v1M130.5 546v1M131.5 544v2M132.5 543v1M133.5 542v1M134.5 541v1M135.5 539v2M136.5 538v1M137.5 537v1M138.5 536v1M139.5 534v2M140.5 533v1M141.5 532v1M144.5 530v1M145.5 529v1M148.5 527v1M149.5 526v1M152.5 524v1M153.5 523v1M156.5 521v1M157.5 520v1M162.5 517v1M165.5 515v1M166.5 514v1M167.5 513v1M168.5 512v1M169.5 511v1M170.5 510v1M171.5 509v1M172.5 508v1M173.5 507v1M178.5 504v1M181.5 502v1M186.5 499v1M189.5 497v1M192.5 495v1M193.5 494v1M196.5 492v1M197.5 491v1M200.5 489v1M201.5 488v1M204.5 486v1M205.5 485v1M206.5 484v1M207.5 482v2M208.5 481v1M209.5 480v1M210.5 479v1M211.5 477v2M212.5 476v1M213.5 475v1M214.5 474v1M215.5 472v2M216.5 471v1M217.5 470v1M218.5 469v1M219.5 467v2M220.5 466v1M221.5 465v1M222.5 464v1M223.5 463v1M224.5 462v1M225.5 460v2M226.5 459v1M227.5 458v1M228.5 457v1M229.5 456v1M234.5 453v1M245.5 447v1M248.5 445v1M249.5 444v1M252.5 442v1M253.5 441v1M254.5 440v1M255.5 439v1M256.5 438v1M257.5 437v1M258.5 436v1M259.5 435v1M260.5 434v1M261.5 433v1M264.5 431v1M265.5 430v1M268.5 428v1M269.5 427v1M272.5 425v1M273.5 424v1M276.5 422v1M277.5 421v1M278.5 420v1M279.5 419v1M280.5 418v1M281.5 417v1M282.5 416v1M283.5 415v1M284.5 414v1M285.5 413v1M286.5 412v1M287.5 411v1M290.5 409v1M291.5 408v1M292.5 407v1M293.5 406v1M294.5 405v1M295.5 404v1M296.5 403v1M297.5 401v2M298.5 400v1M299.5 399v1M300.5 398v1M301.5 397v1M302.5 396v1M303.5 395v1M304.5 394v1M305.5 393v1M306.5 392v1M307.5 391v1M308.5 390v1M309.5 389v1M310.5 388v1M311.5 387v1M314.5 385v1M315.5 384v1M316.5 383v1M317.5 382v1M318.5 381v1M319.5 380v1M320.5 379v1M321.5 377v2M322.5 376v1M323.5 375v1M324.5 374v1M325.5 373v1M326.5 372v1M327.5 371v1M328.5 370v1M329.5 369v1M330.5 368v1M331.5 367v1M332.5 366v1M333.5 365v1M334.5 364v1M335.5 363v1M336.5 362v1M337.5 360v2M338.5 359v1M339.5 358v1M340.5 357v1M341.5 356v1M342.5 355v1M343.5 353v2M344.5 352v1M345.5 351v1M346.5 350v1M347.5 348v2M348.5 347v1M349.5 346v1M350.5 345v1M351.5 344v1M354.5 342v1M355.5 341v1M356.5 340v1M357.5 339v1M360.5 337v1M361.5 336v1M364.5 334v1M365.5 333v1M368.5 331v1M369.5 330v1M372.5 328v1M373.5 327v1M374.5 326v1M375.5 325v1M378.5 323v1M379.5 322v1M380.5 321v1M381.5 320v1M382.5 319v1M383.5 318v1M384.5 317v1M385.5 316v1M386.5 315v1M387.5 314v1M388.5 313v1M389.5 312v1M392.5 310v1M393.5 309v1M396.5 307v1M397.5 306v1M402.5 303v1M421.5 293v1M426.5 290v1M429.5 288v1M434.5 285v1M645.5 257v1M650.5 254v1M653.5 252v1M658.5 249v1M661.5 247v1M666.5 244v1M870.5 225v1M873.5 227v1M874.5 228v1M877.5 230v1M878.5 231v1M881.5 233v1M882.5 234v1M885.5 236v1M886.5 237v1M889.5 239v1M890.5 240v1M893.5 242v1M894.5 243v1M897.5 245v1M898.5 246v1M901.5 248v1M902.5 249v1M903.5 250v1M904.5 251v1M907.5 253v1M908.5 254v1M909.5 255v1M910.5 256v1M911.5 257v1M912.5 258v1M915.5 260v1M916.5 261v1M960.5 279v1M1106.5 279v1M1157.5 261v1M1160.5 259v1M1161.5 258v1M1164.5 256v1M1165.5 255v1M1170.5 252v1M1173.5 250v1M1178.5 247v1" fill="none" stroke="#0000c8" stroke-width="1"/>
<path d="M722 179.5h5M714 180.5h8M727 180.5h2M708 181.5h6M729 181.5h3M706 182.5h2M732 182.5h2M677 183.5h10M703 183.5h3M734 183.5h2M687 184.5h2M700 184.5h3M736 184.5h2M689 185.5h3M696 185.5h4M738 185.5h2M692 186.5h4M740 186.5h2M1253 203.5h4M1251 204.5h2M1257 204.5h6M1249 205.5h2M1263 205.5h2M1247 206.5h2M1265 206.5h3M1244 207.5h3M1268 207.5h2M1242 208.5h2M1270 208.5h2M1239 209.5h3M1236 210.5h3M1273 210.5h2M1189 211.5h2M1234 211.5h2M1275 211.5h2M1187 212.5h2M1191 212.5h4M1231 212.5h3M1185 213.5h2M1195 213.5h3M1228 213.5h3M1278 213.5h2M767 214.5h2M1183 214.5h2M1198 214.5h2M1226 214.5h2M1181 215.5h2M1200 215.5h2M1223 215.5h3M1281 215.5h2M1202 216.5h2M1218 216.5h5M1283 216.5h2M771 217.5h2M1178 217.5h2M1204 217.5h14M1286 218.5h2M1288 219.5h2M1174 220.5h2M1290 220.5h2M1292 221.5h2M1168 225.5h2M1163 229.5h2M1109 230.5h4M1113 231.5h8M1160 231.5h2M1106 232.5h2M1121 232.5h16M1158 232.5h2M1137 233.5h21M1102 235.5h2M789 238.5h2M804 238.5h3M791 239.5h4M800 239.5h4M807 239.5h2M795 240.5h5M809 240.5h3M1096 240.5h2M812 241.5h5M434 242.5h5M817 242.5h6M428 243.5h6M439 243.5h4M823 243.5h2M426 244.5h2M443 244.5h4M825 244.5h3M850 244.5h5M423 245.5h3M447 245.5h2M828 245.5h3M844 245.5h6M855 245.5h4M402 246.5h7M418 246.5h5M449 246.5h3M831 246.5h2M842 246.5h2M859 246.5h3M397 247.5h5M409 247.5h9M452 247.5h3M833 247.5h3M839 247.5h3M862 247.5h2M395 248.5h2M455 248.5h2M836 248.5h3M393 249.5h2M457 249.5h3M865 249.5h2M391 250.5h2M460 250.5h19M867 250.5h2M389 251.5h2M479 251.5h2M481 252.5h3M870 252.5h2M484 253.5h3M487 254.5h2M873 254.5h2M489 255.5h3M875 255.5h2M1080 255.5h2M492 256.5h2M495 258.5h2M881 260.5h2M499 261.5h2M503 264.5h2M619 264.5h2M886 264.5h2M616 266.5h2M889 266.5h2M507 267.5h2M614 267.5h2M891 267.5h2M1066 268.5h2M1062 271.5h2M513 272.5h2M1060 272.5h2M1058 273.5h2M1055 274.5h3M517 275.5h2M1053 275.5h2M519 276.5h2M521 277.5h3M603 277.5h2M1050 277.5h2M524 278.5h2M526 279.5h2M600 279.5h2M360 280.5h2M528 280.5h2M598 280.5h2M905 280.5h2M1046 280.5h2M530 281.5h2M532 282.5h2M595 282.5h2M534 283.5h2M593 283.5h2M1042 283.5h2M591 284.5h2M537 285.5h2M589 285.5h2M539 286.5h2M587 286.5h2M1038 286.5h2M541 287.5h2M913 287.5h2M543 288.5h4M584 288.5h2M547 289.5h4M582 289.5h2M551 290.5h2M572 290.5h10M553 291.5h3M568 291.5h4M918 291.5h2M1032 291.5h2M556 292.5h12M921 293.5h2M923 294.5h2M1024 298.5h2M1018 303.5h2M934 304.5h2M936 305.5h2M938 306.5h2M1014 306.5h2M338 307.5h2M940 307.5h2M942 308.5h2M1010 309.5h2M334 310.5h2M945 310.5h2M947 311.5h2M1006 312.5h2M1004 313.5h2M951 314.5h2M1002 314.5h2M328 315.5h2M999 315.5h3M994 316.5h5M955 317.5h2M986 317.5h8M957 318.5h2M980 318.5h6M323 319.5h2M959 319.5h2M976 319.5h4M321 320.5h2M961 320.5h3M970 320.5h6M319 321.5h2M964 321.5h6M317 322.5h2M314 324.5h2M310 327.5h2M288 349.5h2M283 353.5h2M280 355.5h2M278 356.5h2M275 358.5h2M273 359.5h2M271 360.5h2M269 361.5h2M266 363.5h2M262 366.5h2M250 378.5h2M246 381.5h2M243 383.5h2M241 384.5h2M239 385.5h2M237 386.5h2M235 387.5h2M232 389.5h2M230 390.5h2M147 488.5h2M145 489.5h2M143 490.5h2M141 491.5h2M138 493.5h2M134 496.5h2M123 507.5h2M120 509.5h2M118 510.5h2M112 515.5h2M107 519.5h2M105 520.5h2M103 521.5h2M101 522.5h2M99 523.5h2M96 525.5h2M94 526.5h2M91 528.5h2M88 530.5h2M86 531.5h2M82 534.5h2M78 537.5h2M72 542.5h2M67 546.5h2M65 547.5h2M63 548.5h2M60 549.5h3M58 550.5h2M55 551.5h3M52 552.5h3M50 553.5h2M47 554.5h3M42 555.5h5M36 556.5h6M32 557.5h4M29 558.5h3M19 568.5h2M16 570.5h2M14 571.5h2M5.5 585v1M6.5 583v2M7.5 581v2M8.5 580v1M9.5 578v2M10.5 577v1M11.5 575v2M12.5 573v2M13.5 572v1M18.5 569v1M21.5 567v1M22.5 566v1M23.5 565v1M24.5 564v1M25.5 562v2M26.5 561v1M27.5 560v1M28.5 559v1M69.5 545v1M70.5 544v1M71.5 543v1M74.5 541v1M75.5 540v1M76.5 539v1M77.5 538v1M80.5 536v1M81.5 535v1M84.5 533v1M85.5 532v1M90.5 529v1M93.5 527v1M98.5 524v1M109.5 518v1M110.5 517v1M111.5 516v1M114.5 514v1M115.5 513v1M116.5 512v1M117.5 511v1M122.5 508v1M125.5 506v1M126.5 505v1M127.5 504v1M128.5 503v1M129.5 501v2M130.5 500v1M131.5 499v1M132.5 498v1M133.5 497v1M136.5 495v1M137.5 494v1M140.5 492v1M149.5 487v1M150.5 486v1M151.5 484v2M152.5 483v1M153.5 482v1M154.5 481v1M155.5 479v2M156.5 478v1M157.5 477v1M158.5 476v1M159.5 475v1M160.5 474v1M161.5 472v2M162.5 471v1M163.5 470v1M164.5 469v1M165.5 468v1M166.5 467v1M167.5 465v2M168.5 464v1M169.5 463v1M170.5 462v1M171.5 460v2M172.5 459v1M173.5 458v1M174.5 457v1M175.5 456v1M176.5 455v1M177.5 454v1M178.5 453v1M179.5 452v1M180.5 451v1M181.5 450v1M182.5 449v1M183.5 448v1M184.5 447v1M185.5 446v1M186.5 445v1M187.5 444v1M188.5 443v1M189.5 442v1M190.5 441v1M191.5 440v1M192.5 439v1M193.5 437v2M194.5 436v1M195.5 435v1M196.5 434v1M197.5 433v1M198.5 432v1M199.5 431v1M200.5 430v1M201.5 429v1M202.5 428v1M203.5 427v1M204.5 426v1M205.5 425v1M206.5 423v2M207.5 421v2M208.5 419v2M209.5 418v1M210.5 416v2M211.5 414v2M212.5 412v2M213.5 411v1M214.5 409v2M215.5 408v1M216.5 407v1M217.5 405v2M218.5 404v1M219.5 403v1M220.5 401v2M221.5 400v1M222.5 399v1M223.5 398v1M224.5 397v1M225.5 395v2M226.5 394v1M227.5 393v1M228.5 392v1M229.5 391v1M234.5 388v1M245.5 382v1M248.5 380v1M249.5 379v1M252.5 377v1M253.5 376v1M254.5 375v1M255.5 374v1M256.5 373v1M257.5 371v2M258.5 370v1M259.5 369v1M260.5 368v1M261.5 367v1M264.5 365v1M265.5 364v1M268.5 362v1M277.5 357v1M282.5 354v1M285.5 352v1M286.5 351v1M287.5 350v1M290.5 348v1M291.5 347v1M292.5 346v1M293.5 345v1M294.5 344v1M295.5 343v1M296.5 342v1M297.5 341v1M298.5 340v1M299.5 339v1M300.5 338v1M301.5 337v1M302.5 336v1M303.5 335v1M304.5 334v1M305.5 332v2M306.5 331v1M307.5 330v1M308.5 329v1M309.5 328v1M312.5 326v1M313.5 325v1M316.5 323v1M325.5 318v1M326.5 317v1M327.5 316v1M330.5 314v1M331.5 313v1M332.5 312v1M333.5 311v1M336.5 309v1M337.5 308v1M340.5 306v1M341.5 305v1M342.5 303v2M343.5 302v1M344.5 301v1M345.5 299v2M346.5 298v1M347.5 297v1M348.5 295v2M349.5 294v1M350.5 292v2M351.5 291v1M352.5 290v1M353.5 288v2M354.5 287v1M355.5 286v1M356.5 284v2M357.5 283v1M358.5 282v1M359.5 281v1M362.5 279v1M363.5 278v1M364.5 277v1M365.5 276v1M366.5 275v1M367.5 274v1M368.5 273v1M369.5 272v1M370.5 271v1M371.5 270v1M372.5 269v1M373.5 268v1M374.5 267v1M375.5 266v1M376.5 265v1M377.5 264v1M378.5 263v1M379.5 262v1M380.5 261v1M381.5 260v1M382.5 259v1M383.5 258v1M384.5 257v1M385.5 255v2M386.5 254v1M387.5 253v1M388.5 252v1M494.5 257v1M497.5 259v1M498.5 260v1M501.5 262v1M502.5 263v1M505.5 265v1M506.5 266v1M509.5 268v1M510.5 269v1M511.5 270v1M512.5 271v1M515.5 273v1M516.5 274v1M536.5 284v1M586.5 287v1M597.5 281v1M602.5 278v1M605.5 276v1M606.5 275v1M607.5 274v1M608.5 273v1M609.5 272v1M610.5 271v1M611.5 270v1M612.5 269v1M613.5 268v1M618.5 265v1M621.5 263v1M622.5 262v1M623.5 261v1M624.5 260v1M625.5 259v1M626.5 258v1M627.5 257v1M628.5 256v1M629.5 255v1M630.5 253v2M631.5 252v1M632.5 250v2M633.5 249v1M634.5 247v2M635.5 246v1M636.5 244v2M637.5 243v1M638.5 241v2M639.5 239v2M640.5 238v1M641.5 236v2M642.5 235v1M643.5 233v2M644.5 231v2M645.5 230v1M646.5 228v2M647.5 226v2M648.5 225v1M649.5 223v2M650.5 222v1M651.5 220v2M652.5 218v2M653.5 217v1M654.5 215v2M655.5 214v1M656.5 212v2M657.5 211v1M658.5 209v2M659.5 208v1M660.5 206v2M661.5 205v1M662.5 203v2M663.5 201v2M664.5 200v1M665.5 198v2M666.5 197v1M667.5 195v2M668.5 193v2M669.5 192v1M670.5 191v1M671.5 190v1M672.5 189v1M673.5 187v2M674.5 186v1M675.5 185v1M676.5 184v1M742.5 187v1M743.5 188v1M744.5 189v1M745.5 190v2M746.5 192v1M747.5 193v1M748.5 194v1M749.5 195v1M750.5 196v1M751.5 197v1M752.5 198v1M753.5 199v1M754.5 200v1M755.5 201v1M756.5 202v1M757.5 203v1M758.5 204v1M759.5 205v1M760.5 206v1M761.5 207v2M762.5 209v1M763.5 210v1M764.5 211v1M765.5 212v1M766.5 213v1M769.5 215v1M770.5 216v1M773.5 218v1M774.5 219v1M775.5 220v2M776.5 222v1M777.5 223v1M778.5 224v1M779.5 225v2M780.5 227v1M781.5 228v1M782.5 229v1M783.5 230v2M784.5 232v1M785.5 233v1M786.5 234v1M787.5 235v2M788.5 237v1M864.5 248v1M869.5 251v1M872.5 253v1M877.5 256v1M878.5 257v1M879.5 258v1M880.5 259v1M883.5 261v1M884.5 262v1M885.5 263v1M888.5 265v1M893.5 268v1M894.5 269v1M895.5 270v1M896.5 271v1M897.5 272v1M898.5 273v1M899.5 274v1M900.5 275v1M901.5 276v1M902.5 277v1M903.5 278v1M904.5 279v1M907.5 281v1M908.5 282v1M909.5 283v1M910.5 284v1M911.5 285v1M912.5 286v1M915.5 288v1M916.5 289v1M917.5 290v1M920.5 292v1M925.5 295v1M926.5 296v1M927.5 297v1M928.5 298v1M929.5 299v1M930.5 300v1M931.5 301v1M932.5 302v1M933.5 303v1M944.5 309v1M949.5 312v1M950.5 313v1M953.5 315v1M954.5 316v1M1008.5 311v1M1009.5 310v1M1012.5 308v1M1013.5 307v1M1016.5 305v1M1017.5 304v1M1020.5 302v1M1021.5 301v1M1022.5 300v1M1023.5 299v1M1026.5 297v1M1027.5 296v1M1028.5 295v1M1029.5 294v1M1030.5 293v1M1031.5 292v1M1034.5 290v1M1035.5 289v1M1036.5 288v1M1037.5 287v1M1040.5 285v1M1041.5 284v1M1044.5 282v1M1045.5 281v1M1048.5 279v1M1049.5 278v1M1052.5 276v1M1064.5 270v1M1065.5 269v1M1068.5 267v1M1069.5 266v1M1070.5 265v1M1071.5 264v1M1072.5 263v1M1073.5 262v1M1074.5 261v1M1075.5 260v1M1076.5 259v1M1077.5 258v1M1078.5 257v1M1079.5 256v1M1082.5 254v1M1083.5 253v1M1084.5 252v1M1085.5 251v1M1086.5 250v1M1087.5 249v1M1088.5 248v1M1089.5 247v1M1090.5 246v1M1091.5 245v1M1092.5 244v1M1093.5 243v1M1094.5 242v1M1095.5 241v1M1098.5 239v1M1099.5 238v1M1100.5 237v1M1101.5 236v1M1104.5 234v1M1105.5 233v1M1108.5 231v1M1162.5 230v1M1165.5 228v1M1166.5 227v1M1167.5 226v1M1170.5 224v1M1171.5 223v1M1172.5 222v1M1173.5 221v1M1176.5 219v1M1177.5 218v1M1180.5 216v1M1272.5 209v1M1277.5 212v1M1280.5 214v1M1285.5 217v1" fill="none" stroke="#ff0000" stroke-width="1"/>
<path d="M676 120.5h2M1190 171.5h2M1193 173.5h2M1195 174.5h2M727 212.5h2M731 215.5h2M1250 216.5h4M717 217.5h2M1108 217.5h2M1244 217.5h6M1106 218.5h2M1110 218.5h2M1242 218.5h2M1103 219.5h3M1112 219.5h2M1239 219.5h3M1101 220.5h2M1114 220.5h2M1237 220.5h2M1257 220.5h2M1099 221.5h2M1116 221.5h2M1235 221.5h2M614 222.5h2M1097 222.5h2M610 223.5h2M616 223.5h2M1095 223.5h2M1232 223.5h2M618 224.5h2M1093 224.5h2M1230 224.5h2M1262 224.5h2M620 225.5h5M1091 225.5h2M606 226.5h2M625 226.5h5M1089 226.5h2M1265 226.5h2M1087 227.5h2M1267 227.5h2M357 228.5h2M1085 228.5h2M359 229.5h2M602 229.5h2M1270 229.5h2M361 230.5h3M364 231.5h2M1273 231.5h2M598 232.5h2M836 232.5h13M1275 232.5h2M803 233.5h2M821 233.5h2M834 233.5h2M849 233.5h5M1277 233.5h2M801 234.5h2M823 234.5h4M831 234.5h3M1279 234.5h4M369 235.5h2M799 235.5h2M827 235.5h4M1283 235.5h4M797 236.5h2M1074 236.5h4M1126 236.5h2M1287 236.5h4M795 237.5h2M816 237.5h2M1042 237.5h32M1128 237.5h2M1291 237.5h3M373 238.5h2M793 238.5h2M1037 238.5h5M1130 238.5h2M375 239.5h4M791 239.5h2M1132 239.5h2M379 240.5h6M789 240.5h2M385 241.5h5M390 242.5h2M393 244.5h2M395 245.5h2M453 245.5h17M397 246.5h4M451 246.5h2M401 247.5h5M449 247.5h2M1152 247.5h2M406 248.5h2M447 248.5h2M1141 248.5h2M339 249.5h2M408 249.5h2M444 249.5h3M1143 249.5h4M337 250.5h2M410 250.5h2M440 250.5h4M1147 250.5h3M335 251.5h2M412 251.5h2M437 251.5h3M333 252.5h2M414 252.5h2M417 254.5h2M419 255.5h2M421 256.5h2M423 257.5h2M425 258.5h3M428 259.5h2M486 264.5h2M489 266.5h2M491 267.5h2M764 275.5h2M972 307.5h2M970 308.5h2M974 308.5h2M967 309.5h3M964 310.5h3M977 310.5h2M962 311.5h2M979 311.5h2M959 312.5h3M957 313.5h2M982 313.5h2M955 314.5h2M984 314.5h2M953 315.5h2M986 315.5h2M951 316.5h2M988 316.5h10M949 317.5h2M909 321.5h2M886 322.5h2M907 322.5h2M911 322.5h4M888 323.5h2M915 323.5h11M544 324.5h2M890 324.5h2M904 324.5h2M892 325.5h5M902 325.5h2M897 326.5h5M939 326.5h2M538 327.5h4M929 327.5h2M533 328.5h5M936 328.5h2M934 329.5h2M234 342.5h4M229 343.5h5M238 343.5h2M241 345.5h2M243 346.5h2M246 348.5h2M249 350.5h2M251 351.5h2M253 352.5h4M257 353.5h5M262 354.5h2M264 355.5h2M266 356.5h2M274 356.5h4M268 357.5h6M203 378.5h2M201 379.5h2M199 380.5h2M197 381.5h2M155 449.5h2M153 450.5h2M151 451.5h2M149 452.5h2M147 453.5h2M145 454.5h2M143 455.5h2M141 456.5h2M114 488.5h2M110 491.5h2M106 492.5h4M100 493.5h6M96 494.5h4M92 495.5h4M90 496.5h2M87 497.5h3M85 498.5h2M64 527.5h2M29 541.5h4M33 542.5h6M52 542.5h2M39 543.5h2M50 543.5h2M41 544.5h3M47 544.5h3M24 545.5h2M44 545.5h3M19 549.5h2M17 550.5h2M15 551.5h2M13 552.5h2M8 556.5h2M5.5 559v1M6.5 558v1M7.5 557v1M10.5 555v1M11.5 554v1M12.5 553v1M21.5 548v1M22.5 547v1M23.5 546v1M26.5 544v1M27.5 543v1M28.5 542v1M54.5 540v2M55.5 539v1M56.5 537v2M57.5 536v1M58.5 534v2M59.5 533v1M60.5 531v2M61.5 530v1M62.5 529v1M63.5 528v1M66.5 526v1M67.5 525v1M68.5 524v1M69.5 523v1M70.5 521v2M71.5 520v1M72.5 519v1M73.5 517v2M74.5 516v1M75.5 515v1M76.5 513v2M77.5 512v1M78.5 510v2M79.5 508v2M80.5 506v2M81.5 505v1M82.5 503v2M83.5 501v2M84.5 499v2M112.5 490v1M113.5 489v1M116.5 487v1M117.5 486v1M118.5 485v1M119.5 484v1M120.5 483v1M121.5 482v1M122.5 481v1M123.5 480v1M124.5 479v1M125.5 478v1M126.5 476v2M127.5 475v1M128.5 474v1M129.5 472v2M130.5 471v1M131.5 470v1M132.5 468v2M133.5 467v1M134.5 465v2M135.5 464v1M136.5 463v1M137.5 461v2M138.5 460v1M139.5 459v1M140.5 457v2M157.5 448v1M158.5 446v2M159.5 445v1M160.5 443v2M161.5 442v1M162.5 440v2M163.5 439v1M164.5 437v2M165.5 436v1M166.5 434v2M167.5 432v2M168.5 430v2M169.5 428v2M170.5 426v2M171.5 424v2M172.5 422v2M173.5 421v1M174.5 419v2M175.5 417v2M176.5 415v2M177.5 413v2M178.5 411v2M179.5 409v2M180.5 407v2M181.5 406v1M182.5 404v2M183.5 402v2M184.5 400v2M185.5 398v2M186.5 396v2M187.5 394v2M188.5 392v2M189.5 391v1M190.5 390v1M191.5 388v2M192.5 387v1M193.5 386v1M194.5 385v1M195.5 383v2M196.5 382v1M205.5 377v1M206.5 375v2M207.5 374v1M208.5 372v2M209.5 371v1M210.5 369v2M211.5 368v1M212.5 366v2M213.5 365v1M214.5 363v2M215.5 361v2M216.5 359v2M217.5 358v1M218.5 356v2M219.5 354v2M220.5 352v2M221.5 351v1M222.5 350v1M223.5 349v1M224.5 348v1M225.5 347v1M226.5 346v1M227.5 345v1M228.5 344v1M240.5 344v1M245.5 347v1M248.5 349v1M278.5 354v2M279.5 353v1M280.5 352v1M281.5 350v2M282.5 349v1M283.5 348v1M284.5 346v2M285.5 344v2M286.5 342v2M287.5 339v3M288.5 337v2M289.5 334v3M290.5 332v2M291.5 329v3M292.5 327v2M293.5 324v3M294.5 322v2M295.5 320v2M296.5 317v3M297.5 315v2M298.5 312v3M299.5 310v2M300.5 308v2M301.5 306v2M302.5 304v2M303.5 302v2M304.5 300v2M305.5 298v2M306.5 296v2M307.5 294v2M308.5 292v2M309.5 290v2M310.5 288v2M311.5 286v2M312.5 284v2M313.5 283v1M314.5 281v2M315.5 279v2M316.5 277v2M317.5 276v1M318.5 274v2M319.5 272v2M320.5 270v2M321.5 269v1M322.5 267v2M323.5 265v2M324.5 263v2M325.5 262v1M326.5 261v1M327.5 259v2M328.5 258v1M329.5 257v1M330.5 256v1M331.5 254v2M332.5 253v1M341.5 248v1M342.5 246v2M343.5 245v1M344.5 244v1M345.5 242v2M346.5 241v1M347.5 240v1M348.5 238v2M349.5 237v1M350.5 236v1M351.5 235v1M352.5 234v1M353.5 232v2M354.5 231v1M355.5 230v1M356.5 229v1M366.5 232v1M367.5 233v1M368.5 234v1M371.5 236v1M372.5 237v1M392.5 243v1M416.5 253v1M430.5 258v1M431.5 257v1M432.5 256v1M433.5 255v1M434.5 254v1M435.5 253v1M436.5 252v1M470.5 246v1M471.5 247v2M472.5 249v1M473.5 250v1M474.5 251v1M475.5 252v2M476.5 254v1M477.5 255v1M478.5 256v1M479.5 257v1M480.5 258v1M481.5 259v1M482.5 260v1M483.5 261v1M484.5 262v1M485.5 263v1M488.5 265v1M493.5 268v1M494.5 269v2M495.5 271v1M496.5 272v2M497.5 274v1M498.5 275v2M499.5 277v1M500.5 278v2M501.5 280v1M502.5 281v2M503.5 283v2M504.5 285v2M505.5 287v2M506.5 289v2M507.5 291v2M508.5 293v2M509.5 295v1M510.5 296v2M511.5 298v2M512.5 300v2M513.5 302v2M514.5 304v2M515.5 306v2M516.5 308v2M517.5 310v1M518.5 311v1M519.5 312v2M520.5 314v1M521.5 315v1M522.5 316v1M523.5 317v2M524.5 319v1M525.5 320v1M526.5 321v1M527.5 322v1M528.5 323v1M529.5 324v1M530.5 325v1M531.5 326v1M532.5 327v1M542.5 326v1M543.5 325v1M546.5 323v1M547.5 322v1M548.5 321v1M549.5 319v2M550.5 316v3M551.5 313v3M552.5 310v3M553.5 308v2M554.5 305v3M555.5 302v3M556.5 299v3M557.5 296v3M558.5 294v2M559.5 292v2M560.5 290v2M561.5 288v2M562.5 286v2M563.5 284v2M564.5 282v2M565.5 280v2M566.5 278v2M567.5 276v2M568.5 274v2M569.5 272v2M570.5 270v2M571.5 268v2M572.5 266v2M573.5 265v1M574.5 263v2M575.5 262v1M576.5 260v2M577.5 259v1M578.5 257v2M579.5 256v1M580.5 254v2M581.5 253v1M582.5 251v2M583.5 250v1M584.5 248v2M585.5 247v1M586.5 245v2M587.5 244v1M588.5 242v2M589.5 241v1M590.5 240v1M591.5 239v1M592.5 238v1M593.5 237v1M594.5 236v1M595.5 235v1M596.5 234v1M597.5 233v1M600.5 231v1M601.5 230v1M604.5 228v1M605.5 227v1M608.5 225v1M609.5 224v1M612.5 222v1M613.5 221v1M629.5 225v1M630.5 223v2M631.5 221v2M632.5 219v2M633.5 216v3M634.5 214v2M635.5 212v2M636.5 210v2M637.5 208v2M638.5 206v2M639.5 204v2M640.5 202v2M641.5 200v2M642.5 198v2M643.5 196v2M644.5 194v2M645.5 191v3M646.5 189v2M647.5 187v2M648.5 185v2M649.5 183v2M650.5 181v2M651.5 179v2M652.5 177v2M653.5 174v3M654.5 171v3M655.5 168v3M656.5 165v3M657.5 161v4M658.5 158v3M659.5 155v3M660.5 152v3M661.5 149v3M662.5 147v2M663.5 145v2M664.5 142v3M665.5 140v2M666.5 137v3M667.5 135v2M668.5 133v2M669.5 131v2M670.5 129v2M671.5 128v1M672.5 126v2M673.5 125v1M674.5 123v2M675.5 122v1M676.5 121v1M677.5 119v1M678.5 121v2M679.5 123v2M680.5 125v2M681.5 127v3M682.5 130v2M683.5 132v2M684.5 134v2M685.5 136v3M686.5 139v3M687.5 142v4M688.5 146v3M689.5 149v3M690.5 152v3M691.5 155v4M692.5 159v3M693.5 162v3M694.5 165v2M695.5 167v2M696.5 169v2M697.5 171v2M698.5 173v2M699.5 175v2M700.5 177v2M701.5 179v2M702.5 181v2M703.5 183v2M704.5 185v2M705.5 187v2M706.5 189v2M707.5 191v2M708.5 193v2M709.5 195v3M710.5 198v3M711.5 201v2M712.5 203v3M713.5 206v3M714.5 209v3M715.5 212v2M716.5 214v3M717.5 218v1M719.5 216v1M720.5 215v1M721.5 214v1M722.5 213v1M723.5 212v1M724.5 211v1M725.5 210v1M726.5 211v1M729.5 213v1M730.5 214v1M733.5 216v1M734.5 217v2M735.5 219v2M736.5 221v2M737.5 223v1M738.5 224v2M739.5 226v2M740.5 228v2M741.5 230v2M742.5 232v2M743.5 234v3M744.5 237v2M745.5 239v3M746.5 242v2M747.5 244v3M748.5 247v2M749.5 249v2M750.5 251v2M751.5 253v2M752.5 255v2M753.5 257v2M754.5 259v2M755.5 261v2M756.5 263v2M757.5 265v1M758.5 266v2M759.5 268v1M760.5 269v1M761.5 270v2M762.5 272v1M763.5 273v1M764.5 274v1M765.5 276v1M766.5 273v2M767.5 271v2M768.5 269v2M769.5 266v3M770.5 264v2M771.5 262v2M772.5 260v2M773.5 258v2M774.5 257v1M775.5 256v1M776.5 255v1M777.5 254v1M778.5 253v1M779.5 252v1M780.5 251v1M781.5 250v1M782.5 249v1M783.5 247v2M784.5 246v1M785.5 245v1M786.5 244v1M787.5 242v2M788.5 241v1M805.5 232v1M806.5 233v1M807.5 234v1M808.5 235v1M809.5 236v1M810.5 237v1M811.5 238v1M812.5 239v1M813.5 240v1M814.5 239v1M815.5 238v1M818.5 236v1M819.5 235v1M820.5 234v1M853.5 234v1M854.5 235v4M855.5 239v4M856.5 243v3M857.5 246v4M858.5 250v3M859.5 253v4M860.5 257v4M861.5 261v3M862.5 264v4M863.5 268v3M864.5 271v4M865.5 275v3M866.5 278v4M867.5 282v3M868.5 285v4M869.5 289v3M870.5 292v2M871.5 294v2M872.5 296v2M873.5 298v2M874.5 300v2M875.5 302v2M876.5 304v2M877.5 306v2M878.5 308v2M879.5 310v2M880.5 312v2M881.5 314v1M882.5 315v2M883.5 317v2M884.5 319v2M885.5 321v1M906.5 323v1M926.5 324v1M927.5 325v1M928.5 326v1M931.5 328v1M932.5 329v1M933.5 330v1M938.5 327v1M941.5 325v1M942.5 324v1M943.5 323v1M944.5 322v1M945.5 321v1M946.5 320v1M947.5 319v1M948.5 318v1M976.5 309v1M981.5 312v1M998.5 314v2M999.5 312v2M1000.5 310v2M1001.5 309v1M1002.5 307v2M1003.5 305v2M1004.5 303v2M1005.5 301v2M1006.5 299v2M1007.5 297v2M1008.5 295v2M1009.5 293v2M1010.5 291v2M1011.5 289v2M1012.5 287v2M1013.5 284v3M1014.5 282v2M1015.5 279v3M1016.5 277v2M1017.5 274v3M1018.5 272v2M1019.5 269v3M1020.5 267v2M1021.5 265v2M1022.5 263v2M1023.5 261v2M1024.5 260v1M1025.5 258v2M1026.5 257v1M1027.5 255v2M1028.5 253v2M1029.5 252v1M1030.5 250v2M1031.5 248v2M1032.5 246v2M1033.5 245v1M1034.5 243v2M1035.5 241v2M1036.5 239v2M1078.5 235v1M1079.5 234v1M1080.5 233v1M1081.5 232v1M1082.5 231v1M1083.5 230v1M1084.5 229v1M1118.5 222v2M1119.5 224v2M1120.5 226v2M1121.5 228v1M1122.5 229v2M1123.5 231v2M1124.5 233v2M1125.5 235v1M1134.5 240v1M1135.5 241v1M1136.5 242v1M1137.5 243v2M1138.5 245v1M1139.5 246v1M1140.5 247v1M1150.5 249v1M1151.5 248v1M1154.5 246v1M1155.5 245v1M1156.5 244v1M1157.5 242v2M1158.5 240v2M1159.5 238v2M1160.5 236v2M1161.5 233v3M1162.5 231v2M1163.5 229v2M1164.5 227v2M1165.5 224v3M1166.5 222v2M1167.5 220v2M1168.5 218v2M1169.5 215v3M1170.5 213v2M1171.5 211v2M1172.5 209v2M1173.5 206v3M1174.5 203v3M1175.5 200v3M1176.5 197v3M1177.5 193v4M1178.5 190v3M1179.5 187v3M1180.5 184v3M1181.5 182v2M1182.5 180v2M1183.5 179v1M1184.5 177v2M1185.5 176v1M1186.5 174v2M1187.5 173v1M1188.5 171v2M1189.5 170v1M1192.5 172v1M1197.5 175v2M1198.5 177v2M1199.5 179v2M1200.5 181v3M1201.5 184v2M1202.5 186v3M1203.5 189v2M1204.5 191v2M1205.5 193v2M1206.5 195v2M1207.5 197v1M1208.5 198v1M1209.5 199v2M1210.5 201v1M1211.5 202v1M1212.5 203v2M1213.5 205v1M1214.5 206v1M1215.5 207v2M1216.5 209v1M1217.5 210v1M1218.5 211v1M1219.5 212v2M1220.5 214v1M1221.5 215v1M1222.5 216v1M1223.5 217v2M1224.5 219v1M1225.5 220v1M1226.5 221v1M1227.5 222v2M1228.5 224v1M1229.5 225v1M1234.5 222v1M1254.5 217v1M1255.5 218v1M1256.5 219v1M1259.5 221v1M1260.5 222v1M1261.5 223v1M1264.5 225v1M1269.5 228v1M1272.5 230v1" fill="none" stroke="#ffa500" stroke-width="1"/>
</g>
<rect x="1631" y="219" width="2" height="1" fill="#000"/>
<rect x="1632" y="214" width="40" height="11" fill="#000"/>
<text x="1636" y="223" font-size="10" fill="#fff" text-anchor="start" textLength="33" lengthAdjust="spacingAndGlyphs">0.77663</text>
<rect x="5" y="124" width="1627" height="2" fill="#ff0000"/>
<rect x="4" y="122" width="6" height="6" fill="#ff0000"/>
<rect x="6" y="124" width="2" height="2" fill="#fff"/>
<rect x="1624" y="122" width="6" height="6" fill="#ff0000"/>
<rect x="1626" y="124" width="2" height="2" fill="#fff"/>
<rect x="1631" y="126" width="2" height="1" fill="#000"/>
<rect x="1632" y="119" width="40" height="11" fill="#ff0000"/>
<text x="1636" y="128" font-size="10" fill="#fff" text-anchor="start" textLength="33" lengthAdjust="spacingAndGlyphs">0.79010</text>
<rect x="5" y="194" width="1627" height="2" fill="#ff0000"/>
<rect x="4" y="192" width="6" height="6" fill="#ff0000"/>
<rect x="6" y="194" width="2" height="2" fill="#fff"/>
<rect x="1624" y="192" width="6" height="6" fill="#ff0000"/>
<rect x="1626" y="194" width="2" height="2" fill="#fff"/>
<rect x="1631" y="196" width="2" height="1" fill="#000"/>
<rect x="1632" y="189" width="40" height="11" fill="#ff0000"/>
<text x="1636" y="198" font-size="10" fill="#fff" text-anchor="start" textLength="33" lengthAdjust="spacingAndGlyphs">0.78009</text>
<rect x="5" y="277" width="1627" height="2" fill="#00ff00"/>
<rect x="4" y="275" width="6" height="6" fill="#00ff00"/>
<rect x="6" y="277" width="2" height="2" fill="#fff"/>
<rect x="1624" y="275" width="6" height="6" fill="#00ff00"/>
<rect x="1626" y="277" width="2" height="2" fill="#fff"/>
<rect x="1631" y="279" width="2" height="1" fill="#000"/>
<rect x="1632" y="272" width="40" height="11" fill="#00ff00"/>
<text x="1636" y="281" font-size="10" fill="#fff" text-anchor="start" textLength="33" lengthAdjust="spacingAndGlyphs">0.76813</text>
<rect x="5" y="361" width="1627" height="2" fill="#0000ff"/>
<rect x="4" y="359" width="6" height="6" fill="#0000ff"/>
<rect x="6" y="361" width="2" height="2" fill="#fff"/>
<rect x="1624" y="359" width="6" height="6" fill="#0000ff"/>
<rect x="1626" y="361" width="2" height="2" fill="#fff"/>
<rect x="1631" y="363" width="2" height="1" fill="#000"/>
<rect x="1632" y="356" width="40" height="11" fill="#0000ff"/>
<text x="1636" y="365" font-size="10" fill="#fff" text-anchor="start" textLength="33" lengthAdjust="spacingAndGlyphs">0.75617</text>
<rect x="5" y="472" width="1627" height="2" fill="#0000ff"/>
<rect x="1631" y="474" width="2" height="1" fill="#000"/>
<rect x="1632" y="467" width="40" height="11" fill="#0000ff"/>
<text x="1636" y="476" font-size="10" fill="#fff" text-anchor="start" textLength="33" lengthAdjust="spacingAndGlyphs">0.74018</text>
<path d="M8 31 h7 l-3.5 4 z" fill="#000" shape-rendering="geometricPrecision"/>
<text x="20.7" y="36" font-size="10" fill="#000" text-anchor="start" textLength="65" lengthAdjust="spacingAndGlyphs">AUDUSD,Daily</text>
<text x="92.2" y="36" font-size="10" fill="#000" text-anchor="start" textLength="140.6" lengthAdjust="spacingAndGlyphs">0.77396 0.77664 0.77322 0.77663</text>
<path d="M5 625.5h3M11 625.5h3M17 625.5h3M23 625.5h3M29 625.5h3M35 625.5h3M41 625.5h3M47 625.5h3M53 625.5h3M59 625.5h3M65 625.5h3M71 625.5h3M77 625.5h3M83 625.5h3M89 625.5h3M95 625.5h3M101 625.5h3M107 625.5h3M113 625.5h3M119 625.5h3M125 625.5h3M131 625.5h3M137 625.5h3M143 625.5h3M149 625.5h3M155 625.5h3M161 625.5h3M167 625.5h3M173 625.5h3M179 625.5h3M185 625.5h3M191 625.5h3M197 625.5h3M203 625.5h3M209 625.5h3M215 625.5h3M221 625.5h3M227 625.5h3M233 625.5h3M239 625.5h3M245 625.5h3M251 625.5h3M257 625.5h3M263 625.5h3M269 625.5h3M275 625.5h3M281 625.5h3M287 625.5h3M293 625.5h3M299 625.5h3M305 625.5h3M311 625.5h3M317 625.5h3M323 625.5h3M329 625.5h3M335 625.5h3M341 625.5h3M347 625.5h3M353 625.5h3M359 625.5h3M365 625.5h3M371 625.5h3M377 625.5h3M383 625.5h3M389 625.5h3M395 625.5h3M401 625.5h3M407 625.5h3M413 625.5h3M419 625.5h3M425 625.5h3M431 625.5h3M437 625.5h3M443 625.5h3M449 625.5h3M455 625.5h3M461 625.5h3M467 625.5h3M473 625.5h3M479 625.5h3M485 625.5h3M491 625.5h3M497 625.5h3M503 625.5h3M509 625.5h3M515 625.5h3M521 625.5h3M527 625.5h3M533 625.5h3M539 625.5h3M545 625.5h3M551 625.5h3M557 625.5h3M563 625.5h3M569 625.5h3M575 625.5h3M581 625.5h3M587 625.5h3M593 625.5h3M599 625.5h3M605 625.5h3M611 625.5h3M617 625.5h3M623 625.5h3M629 625.5h3M635 625.5h3M641 625.5h3M647 625.5h3M653 625.5h3M659 625.5h3M665 625.5h3M671 625.5h3M677 625.5h3M683 625.5h3M689 625.5h3M695 625.5h3M701 625.5h3M707 625.5h3M713 625.5h3M719 625.5h3M725 625.5h3M731 625.5h3M737 625.5h3M743 625.5h3M749 625.5h3M755 625.5h3M761 625.5h3M767 625.5h3M773 625.5h3M779 625.5h3M785 625.5h3M791 625.5h3M797 625.5h3M803 625.5h3M809 625.5h3M815 625.5h3M821 625.5h3M827 625.5h3M833 625.5h3M839 625.5h3M845 625.5h3M851 625.5h3M857 625.5h3M863 625.5h3M869 625.5h3M875 625.5h3M881 625.5h3M887 625.5h3M893 625.5h3M899 625.5h3M905 625.5h3M911 625.5h3M917 625.5h3M923 625.5h3M929 625.5h3M935 625.5h3M941 625.5h3M947 625.5h3M953 625.5h3M959 625.5h3M965 625.5h3M971 625.5h3M977 625.5h3M983 625.5h3M989 625.5h3M995 625.5h3M1001 625.5h3M1007 625.5h3M1013 625.5h3M1019 625.5h3M1025 625.5h3M1031 625.5h3M1037 625.5h3M1043 625.5h3M1049 625.5h3M1055 625.5h3M1061 625.5h3M1067 625.5h3M1073 625.5h3M1079 625.5h3M1085 625.5h3M1091 625.5h3M1097 625.5h3M1103 625.5h3M1109 625.5h3M1115 625.5h3M1121 625.5h3M1127 625.5h3M1133 625.5h3M1139 625.5h3M1145 625.5h3M1151 625.5h3M1157 625.5h3M1163 625.5h3M1169 625.5h3M1175 625.5h3M1181 625.5h3M1187 625.5h3M1193 625.5h3M1199 625.5h3M1205 625.5h3M1211 625.5h3M1217 625.5h3M1223 625.5h3M1229 625.5h3M1235 625.5h3M1241 625.5h3M1247 625.5h3M1253 625.5h3M1259 625.5h3M1265 625.5h3M1271 625.5h3M1277 625.5h3M1283 625.5h3M1289 625.5h3M1295 625.5h3M1301 625.5h3M1307 625.5h3M1313 625.5h3M1319 625.5h3M1325 625.5h3M1331 625.5h3M1337 625.5h3M1343 625.5h3M1349 625.5h3M1355 625.5h3M1361 625.5h3M1367 625.5h3M1373 625.5h3M1379 625.5h3M1385 625.5h3M1391 625.5h3M1397 625.5h3M1403 625.5h3M1409 625.5h3M1415 625.5h3M1421 625.5h3M1427 625.5h3M1433 625.5h3M1439 625.5h3M1445 625.5h3M1451 625.5h3M1457 625.5h3M1463 625.5h3M1469 625.5h3M1475 625.5h3M1481 625.5h3M1487 625.5h3M1493 625.5h3M1499 625.5h3M1505 625.5h3M1511 625.5h3M1517 625.5h3M1523 625.5h3M1529 625.5h3M1535 625.5h3M1541 625.5h3M1547 625.5h3M1553 625.5h3M1559 625.5h3M1565 625.5h3M1571 625.5h3M1577 625.5h3M1583 625.5h3M1589 625.5h3M1595 625.5h3M1601 625.5h3M1607 625.5h3M1613 625.5h3M1619 625.5h3M1625 625.5h3" fill="none" stroke="#c0c0c0" stroke-width="1"/>
<path d="M5 666.5h3M11 666.5h3M17 666.5h3M23 666.5h3M29 666.5h3M35 666.5h3M41 666.5h3M47 666.5h3M53 666.5h3M59 666.5h3M65 666.5h3M71 666.5h3M77 666.5h3M83 666.5h3M89 666.5h3M95 666.5h3M101 666.5h3M107 666.5h3M113 666.5h3M119 666.5h3M125 666.5h3M131 666.5h3M137 666.5h3M143 666.5h3M149 666.5h3M155 666.5h3M161 666.5h3M167 666.5h3M173 666.5h3M179 666.5h3M185 666.5h3M191 666.5h3M197 666.5h3M203 666.5h3M209 666.5h3M215 666.5h3M221 666.5h3M227 666.5h3M233 666.5h3M239 666.5h3M245 666.5h3M251 666.5h3M257 666.5h3M263 666.5h3M269 666.5h3M275 666.5h3M281 666.5h3M287 666.5h3M293 666.5h3M299 666.5h3M305 666.5h3M311 666.5h3M317 666.5h3M323 666.5h3M329 666.5h3M335 666.5h3M341 666.5h3M347 666.5h3M353 666.5h3M359 666.5h3M365 666.5h3M371 666.5h3M377 666.5h3M383 666.5h3M389 666.5h3M395 666.5h3M401 666.5h3M407 666.5h3M413 666.5h3M419 666.5h3M425 666.5h3M431 666.5h3M437 666.5h3M443 666.5h3M449 666.5h3M455 666.5h3M461 666.5h3M467 666.5h3M473 666.5h3M479 666.5h3M485 666.5h3M491 666.5h3M497 666.5h3M503 666.5h3M509 666.5h3M515 666.5h3M521 666.5h3M527 666.5h3M533 666.5h3M539 666.5h3M545 666.5h3M551 666.5h3M557 666.5h3M563 666.5h3M569 666.5h3M575 666.5h3M581 666.5h3M587 666.5h3M593 666.5h3M599 666.5h3M605 666.5h3M611 666.5h3M617 666.5h3M623 666.5h3M629 666.5h3M635 666.5h3M641 666.5h3M647 666.5h3M653 666.5h3M659 666.5h3M665 666.5h3M671 666.5h3M677 666.5h3M683 666.5h3M689 666.5h3M695 666.5h3M701 666.5h3M707 666.5h3M713 666.5h3M719 666.5h3M725 666.5h3M731 666.5h3M737 666.5h3M743 666.5h3M749 666.5h3M755 666.5h3M761 666.5h3M767 666.5h3M773 666.5h3M779 666.5h3M785 666.5h3M791 666.5h3M797 666.5h3M803 666.5h3M809 666.5h3M815 666.5h3M821 666.5h3M827 666.5h3M833 666.5h3M839 666.5h3M845 666.5h3M851 666.5h3M857 666.5h3M863 666.5h3M869 666.5h3M875 666.5h3M881 666.5h3M887 666.5h3M893 666.5h3M899 666.5h3M905 666.5h3M911 666.5h3M917 666.5h3M923 666.5h3M929 666.5h3M935 666.5h3M941 666.5h3M947 666.5h3M953 666.5h3M959 666.5h3M965 666.5h3M971 666.5h3M977 666.5h3M983 666.5h3M989 666.5h3M995 666.5h3M1001 666.5h3M1007 666.5h3M1013 666.5h3M1019 666.5h3M1025 666.5h3M1031 666.5h3M1037 666.5h3M1043 666.5h3M1049 666.5h3M1055 666.5h3M1061 666.5h3M1067 666.5h3M1073 666.5h3M1079 666.5h3M1085 666.5h3M1091 666.5h3M1097 666.5h3M1103 666.5h3M1109 666.5h3M1115 666.5h3M1121 666.5h3M1127 666.5h3M1133 666.5h3M1139 666.5h3M1145 666.5h3M1151 666.5h3M1157 666.5h3M1163 666.5h3M1169 666.5h3M1175 666.5h3M1181 666.5h3M1187 666.5h3M1193 666.5h3M1199 666.5h3M1205 666.5h3M1211 666.5h3M1217 666.5h3M1223 666.5h3M1229 666.5h3M1235 666.5h3M1241 666.5h3M1247 666.5h3M1253 666.5h3M1259 666.5h3M1265 666.5h3M1271 666.5h3M1277 666.5h3M1283 666.5h3M1289 666.5h3M1295 666.5h3M1301 666.5h3M1307 666.5h3M1313 666.5h3M1319 666.5h3M1325 666.5h3M1331 666.5h3M1337 666.5h3M1343 666.5h3M1349 666.5h3M1355 666.5h3M1361 666.5h3M1367 666.5h3M1373 666.5h3M1379 666.5h3M1385 666.5h3M1391 666.5h3M1397 666.5h3M1403 666.5h3M1409 666.5h3M1415 666.5h3M1421 666.5h3M1427 666.5h3M1433 666.5h3M1439 666.5h3M1445 666.5h3M1451 666.5h3M1457 666.5h3M1463 666.5h3M1469 666.5h3M1475 666.5h3M1481 666.5h3M1487 666.5h3M1493 666.5h3M1499 666.5h3M1505 666.5h3M1511 666.5h3M1517 666.5h3M1523 666.5h3M1529 666.5h3M1535 666.5h3M1541 666.5h3M1547 666.5h3M1553 666.5h3M1559 666.5h3M1565 666.5h3M1571 666.5h3M1577 666.5h3M1583 666.5h3M1589 666.5h3M1595 666.5h3M1601 666.5h3M1607 666.5h3M1613 666.5h3M1619 666.5h3M1625 666.5h3" fill="none" stroke="#c0c0c0" stroke-width="1"/>
<path d="M213 616.5h2M211 617.5h2M215 617.5h4M209 618.5h2M219 618.5h11M207 619.5h2M204 620.5h3M676 620.5h2M200 621.5h4M332 621.5h2M674 621.5h2M172 622.5h28M300 622.5h2M330 622.5h2M334 622.5h2M671 622.5h3M168 623.5h4M296 623.5h4M302 623.5h2M327 623.5h3M336 623.5h2M348 623.5h2M658 623.5h13M165 624.5h3M293 624.5h3M304 624.5h2M325 624.5h2M338 624.5h2M344 624.5h4M652 624.5h6M306 625.5h2M323 625.5h2M340 625.5h4M351 625.5h2M650 625.5h2M117 626.5h2M162 626.5h2M290 626.5h2M308 626.5h3M321 626.5h2M647 626.5h3M119 627.5h4M138 627.5h4M311 627.5h4M319 627.5h2M637 627.5h10M76 628.5h5M114 628.5h2M123 628.5h15M315 628.5h4M355 628.5h2M74 629.5h2M81 629.5h5M158 629.5h2M260 629.5h5M286 629.5h2M12 630.5h2M71 630.5h3M86 630.5h2M256 630.5h4M265 630.5h5M388 630.5h2M8 631.5h4M66 631.5h5M88 631.5h2M110 631.5h2M145 631.5h2M155 631.5h2M253 631.5h3M270 631.5h2M283 631.5h2M386 631.5h2M1165 631.5h2M1180 631.5h2M5 632.5h3M58 632.5h8M90 632.5h2M108 632.5h2M153 632.5h2M383 632.5h3M604 632.5h3M1083 632.5h2M1086 632.5h2M1167 632.5h4M1176 632.5h4M1182 632.5h2M53 633.5h5M92 633.5h3M106 633.5h2M151 633.5h2M273 633.5h2M280 633.5h2M378 633.5h5M602 633.5h2M607 633.5h4M1171 633.5h5M1184 633.5h2M29 634.5h9M95 634.5h4M103 634.5h3M149 634.5h2M275 634.5h2M278 634.5h2M372 634.5h6M436 634.5h2M580 634.5h3M599 634.5h3M611 634.5h3M1036 634.5h3M1080 634.5h2M1089 634.5h2M1186 634.5h2M27 635.5h2M38 635.5h2M50 635.5h2M99 635.5h4M241 635.5h2M248 635.5h2M370 635.5h2M432 635.5h4M578 635.5h2M583 635.5h4M594 635.5h5M1010 635.5h5M1034 635.5h2M1039 635.5h2M1052 635.5h2M1078 635.5h2M1091 635.5h2M1188 635.5h2M367 636.5h3M429 636.5h3M439 636.5h2M575 636.5h3M587 636.5h7M1005 636.5h5M1015 636.5h4M1031 636.5h3M1041 636.5h3M1048 636.5h4M1076 636.5h2M1093 636.5h4M24 637.5h2M41 637.5h2M365 637.5h2M427 637.5h2M570 637.5h5M1019 637.5h12M1044 637.5h4M1055 637.5h2M1074 637.5h2M1097 637.5h6M22 638.5h2M43 638.5h2M46 638.5h2M425 638.5h2M467 638.5h2M564 638.5h6M617 638.5h2M1071 638.5h3M1103 638.5h4M397 639.5h10M423 639.5h2M443 639.5h2M560 639.5h4M1068 639.5h3M1107 639.5h3M407 640.5h2M420 640.5h3M445 640.5h10M464 640.5h2M557 640.5h3M626 640.5h4M1059 640.5h2M1064 640.5h4M1156 640.5h2M409 641.5h3M416 641.5h4M455 641.5h4M462 641.5h2M555 641.5h2M621 641.5h5M1061 641.5h3M1152 641.5h4M412 642.5h4M459 642.5h3M708 642.5h5M822 642.5h2M1149 642.5h3M1218 642.5h5M552 643.5h2M706 643.5h2M713 643.5h13M1113 643.5h2M1213 643.5h5M1223 643.5h2M1236 643.5h3M1252 643.5h2M550 644.5h2M703 644.5h3M773 644.5h2M825 644.5h2M1225 644.5h3M1232 644.5h4M1239 644.5h2M1250 644.5h2M1292 644.5h2M477 645.5h2M546 645.5h4M701 645.5h2M771 645.5h2M775 645.5h4M786 645.5h5M827 645.5h2M1210 645.5h2M1228 645.5h4M1241 645.5h3M1247 645.5h3M1255 645.5h2M1290 645.5h2M479 646.5h4M541 646.5h5M779 646.5h7M791 646.5h2M804 646.5h2M829 646.5h17M1117 646.5h2M1244 646.5h3M1287 646.5h3M483 647.5h11M768 647.5h2M793 647.5h3M800 647.5h4M806 647.5h2M946 647.5h4M1119 647.5h4M1282 647.5h5M494 648.5h2M766 648.5h2M796 648.5h4M808 648.5h2M847 648.5h2M941 648.5h5M950 648.5h2M1123 648.5h3M1197 648.5h4M1206 648.5h2M1259 648.5h2M1274 648.5h8M496 649.5h2M686 649.5h2M696 649.5h2M764 649.5h2M810 649.5h2M952 649.5h2M964 649.5h5M1201 649.5h5M1261 649.5h13M498 650.5h2M688 650.5h2M760 650.5h4M812 650.5h2M954 650.5h2M960 650.5h4M969 650.5h8M996 650.5h2M500 651.5h3M690 651.5h2M756 651.5h4M851 651.5h2M956 651.5h4M977 651.5h8M992 651.5h4M503 652.5h2M525 652.5h2M692 652.5h2M740 652.5h3M754 652.5h2M892 652.5h3M936 652.5h2M985 652.5h7M505 653.5h3M527 653.5h4M738 653.5h2M743 653.5h4M751 653.5h3M854 653.5h2M890 653.5h2M895 653.5h2M508 654.5h2M522 654.5h2M531 654.5h3M735 654.5h3M747 654.5h4M877 654.5h4M887 654.5h3M897 654.5h3M922 654.5h7M510 655.5h2M733 655.5h2M857 655.5h2M881 655.5h6M900 655.5h22M929 655.5h5M512 656.5h2M859 656.5h2M514 657.5h2M518 657.5h2M516 658.5h2M862 658.5h2M872 658.5h2M864 659.5h2M866 660.5h2M868 661.5h2M14.5 631v1M15.5 632v1M16.5 633v1M17.5 634v2M18.5 636v1M19.5 637v1M20.5 638v1M21.5 639v1M26.5 636v1M40.5 636v1M45.5 639v1M48.5 637v1M49.5 636v1M52.5 634v1M112.5 630v1M113.5 629v1M116.5 627v1M142.5 628v1M143.5 629v1M144.5 630v1M147.5 632v1M148.5 633v1M157.5 630v1M160.5 628v1M161.5 627v1M164.5 625v1M230.5 619v2M231.5 621v2M232.5 623v1M233.5 624v2M234.5 626v1M235.5 627v2M236.5 629v2M237.5 631v1M238.5 632v1M239.5 633v1M240.5 634v1M243.5 636v1M244.5 637v1M245.5 638v1M246.5 637v1M247.5 636v1M250.5 634v1M251.5 633v1M252.5 632v1M272.5 632v1M277.5 635v1M282.5 632v1M285.5 630v1M288.5 628v1M289.5 627v1M292.5 625v1M350.5 624v1M353.5 626v1M354.5 627v1M357.5 629v1M358.5 630v1M359.5 631v1M360.5 632v1M361.5 633v1M362.5 634v1M363.5 635v1M364.5 636v1M390.5 631v1M391.5 632v1M392.5 633v1M393.5 634v2M394.5 636v1M395.5 637v1M396.5 638v1M438.5 635v1M441.5 637v1M442.5 638v1M466.5 639v1M469.5 637v1M470.5 638v1M471.5 639v1M472.5 640v1M473.5 641v1M474.5 642v1M475.5 643v1M476.5 644v1M520.5 656v1M521.5 655v1M524.5 653v1M534.5 653v1M535.5 652v1M536.5 651v1M537.5 650v1M538.5 649v1M539.5 648v1M540.5 647v1M554.5 642v1M614.5 635v1M615.5 636v1M616.5 637v1M619.5 639v1M620.5 640v1M630.5 638v2M631.5 636v2M632.5 635v1M633.5 633v2M634.5 632v1M635.5 630v2M636.5 628v2M677.5 621v1M678.5 622v4M679.5 626v3M680.5 629v4M681.5 633v3M682.5 636v4M683.5 640v3M684.5 643v4M685.5 647v2M694.5 651v1M695.5 650v1M698.5 648v1M699.5 647v1M700.5 646v1M726.5 644v2M727.5 646v1M728.5 647v2M729.5 649v1M730.5 650v2M731.5 652v1M732.5 653v2M770.5 646v1M814.5 649v1M815.5 648v1M816.5 647v1M817.5 645v2M818.5 644v1M819.5 643v1M820.5 642v1M821.5 641v1M824.5 643v1M846.5 647v1M849.5 649v1M850.5 650v1M853.5 652v1M856.5 654v1M861.5 657v1M870.5 660v1M871.5 659v1M874.5 657v1M875.5 656v1M876.5 655v1M934.5 654v1M935.5 653v1M938.5 651v1M939.5 650v1M940.5 649v1M998.5 648v2M999.5 646v2M1000.5 644v2M1001.5 643v1M1002.5 641v2M1003.5 639v2M1004.5 637v2M1054.5 636v1M1057.5 638v1M1058.5 639v1M1082.5 633v1M1085.5 631v1M1088.5 633v1M1110.5 640v1M1111.5 641v1M1112.5 642v1M1115.5 644v1M1116.5 645v1M1126.5 647v1M1127.5 646v1M1128.5 645v1M1129.5 644v1M1130.5 643v1M1131.5 642v1M1132.5 641v1M1133.5 640v1M1134.5 641v1M1135.5 642v2M1136.5 644v1M1137.5 645v1M1138.5 646v1M1139.5 647v2M1140.5 649v1M1141.5 650v1M1142.5 649v1M1143.5 648v1M1144.5 647v1M1145.5 646v1M1146.5 645v1M1147.5 644v1M1148.5 643v1M1158.5 639v1M1159.5 638v1M1160.5 637v1M1161.5 635v2M1162.5 634v1M1163.5 633v1M1164.5 632v1M1190.5 636v2M1191.5 638v2M1192.5 640v1M1193.5 641v2M1194.5 643v1M1195.5 644v2M1196.5 646v2M1208.5 647v1M1209.5 646v1M1212.5 644v1M1254.5 644v1M1257.5 646v1M1258.5 647v1" fill="none" stroke="#1e90ff" stroke-width="1"/>
<text x="9" y="606" font-size="10" fill="#000" text-anchor="start" textLength="68" lengthAdjust="spacingAndGlyphs">RSI(14) 51.6707</text>
<rect x="1631" y="595" width="1" height="1" fill="#000"/>
<rect x="1631" y="696" width="1" height="1" fill="#000"/>
<text x="1634" y="604" font-size="10" fill="#000" text-anchor="start" textLength="14.4" lengthAdjust="spacingAndGlyphs">100</text>
<text x="1634" y="629" font-size="10" fill="#000" text-anchor="start" textLength="9.4" lengthAdjust="spacingAndGlyphs">70</text>
<text x="1634" y="670" font-size="10" fill="#000" text-anchor="start" textLength="9.4" lengthAdjust="spacingAndGlyphs">30</text>
<text x="1634" y="694" font-size="10" fill="#000" text-anchor="start" textLength="4.4" lengthAdjust="spacingAndGlyphs">0</text>
<rect x="5" y="735" width="1" height="34" fill="#c0c0c0"/>
<rect x="13" y="733" width="1" height="36" fill="#c0c0c0"/>
<rect x="21" y="735" width="1" height="34" fill="#c0c0c0"/>
<rect x="29" y="736" width="1" height="33" fill="#c0c0c0"/>
<rect x="37" y="736" width="1" height="33" fill="#c0c0c0"/>
<rect x="45" y="737" width="1" height="32" fill="#c0c0c0"/>
<rect x="53" y="736" width="1" height="33" fill="#c0c0c0"/>
<rect x="61" y="735" width="1" height="34" fill="#c0c0c0"/>
<rect x="69" y="734" width="1" height="35" fill="#c0c0c0"/>
<rect x="77" y="730" width="1" height="39" fill="#c0c0c0"/>
<rect x="85" y="729" width="1" height="40" fill="#c0c0c0"/>
<rect x="93" y="730" width="1" height="39" fill="#c0c0c0"/>
<rect x="101" y="731" width="1" height="38" fill="#c0c0c0"/>
<rect x="109" y="731" width="1" height="38" fill="#c0c0c0"/>
<rect x="117" y="728" width="1" height="41" fill="#c0c0c0"/>
<rect x="125" y="727" width="1" height="42" fill="#c0c0c0"/>
<rect x="133" y="726" width="1" height="43" fill="#c0c0c0"/>
<rect x="141" y="725" width="1" height="44" fill="#c0c0c0"/>
<rect x="149" y="727" width="1" height="42" fill="#c0c0c0"/>
<rect x="157" y="726" width="1" height="43" fill="#c0c0c0"/>
<rect x="165" y="724" width="1" height="45" fill="#c0c0c0"/>
<rect x="173" y="719" width="1" height="50" fill="#c0c0c0"/>
<rect x="181" y="717" width="1" height="52" fill="#c0c0c0"/>
<rect x="189" y="716" width="1" height="53" fill="#c0c0c0"/>
<rect x="197" y="715" width="1" height="54" fill="#c0c0c0"/>
<rect x="205" y="714" width="1" height="55" fill="#c0c0c0"/>
<rect x="213" y="710" width="1" height="59" fill="#c0c0c0"/>
<rect x="221" y="709" width="1" height="60" fill="#c0c0c0"/>
<rect x="229" y="708" width="1" height="61" fill="#c0c0c0"/>
<rect x="237" y="711" width="1" height="58" fill="#c0c0c0"/>
<rect x="245" y="717" width="1" height="52" fill="#c0c0c0"/>
<rect x="253" y="718" width="1" height="51" fill="#c0c0c0"/>
<rect x="261" y="719" width="1" height="50" fill="#c0c0c0"/>
<rect x="269" y="720" width="1" height="49" fill="#c0c0c0"/>
<rect x="277" y="723" width="1" height="46" fill="#c0c0c0"/>
<rect x="285" y="723" width="1" height="46" fill="#c0c0c0"/>
<rect x="293" y="720" width="1" height="49" fill="#c0c0c0"/>
<rect x="301" y="715" width="1" height="54" fill="#c0c0c0"/>
<rect x="309" y="714" width="1" height="55" fill="#c0c0c0"/>
<rect x="317" y="714" width="1" height="55" fill="#c0c0c0"/>
<rect x="325" y="712" width="1" height="57" fill="#c0c0c0"/>
<rect x="333" y="709" width="1" height="60" fill="#c0c0c0"/>
<rect x="341" y="708" width="1" height="61" fill="#c0c0c0"/>
<rect x="349" y="706" width="1" height="63" fill="#c0c0c0"/>
<rect x="357" y="707" width="1" height="62" fill="#c0c0c0"/>
<rect x="365" y="712" width="1" height="57" fill="#c0c0c0"/>
<rect x="373" y="715" width="1" height="54" fill="#c0c0c0"/>
<rect x="381" y="717" width="1" height="52" fill="#c0c0c0"/>
<rect x="389" y="717" width="1" height="52" fill="#c0c0c0"/>
<rect x="397" y="722" width="1" height="47" fill="#c0c0c0"/>
<rect x="405" y="726" width="1" height="43" fill="#c0c0c0"/>
<rect x="413" y="731" width="1" height="38" fill="#c0c0c0"/>
<rect x="421" y="734" width="1" height="35" fill="#c0c0c0"/>
<rect x="429" y="734" width="1" height="35" fill="#c0c0c0"/>
<rect x="437" y="734" width="1" height="35" fill="#c0c0c0"/>
<rect x="445" y="737" width="1" height="32" fill="#c0c0c0"/>
<rect x="453" y="739" width="1" height="30" fill="#c0c0c0"/>
<rect x="461" y="743" width="1" height="26" fill="#c0c0c0"/>
<rect x="469" y="743" width="1" height="26" fill="#c0c0c0"/>
<rect x="477" y="747" width="1" height="22" fill="#c0c0c0"/>
<rect x="485" y="751" width="1" height="18" fill="#c0c0c0"/>
<rect x="493" y="755" width="1" height="14" fill="#c0c0c0"/>
<rect x="501" y="760" width="1" height="9" fill="#c0c0c0"/>
<rect x="509" y="765" width="1" height="4" fill="#c0c0c0"/>
<rect x="517" y="768" width="1" height="4" fill="#c0c0c0"/>
<rect x="525" y="768" width="1" height="7" fill="#c0c0c0"/>
<rect x="533" y="768" width="1" height="10" fill="#c0c0c0"/>
<rect x="541" y="768" width="1" height="9" fill="#c0c0c0"/>
<rect x="549" y="768" width="1" height="7" fill="#c0c0c0"/>
<rect x="557" y="768" width="1" height="3" fill="#c0c0c0"/>
<rect x="565" y="767" width="1" height="2" fill="#c0c0c0"/>
<rect x="573" y="763" width="1" height="6" fill="#c0c0c0"/>
<rect x="581" y="759" width="1" height="10" fill="#c0c0c0"/>
<rect x="589" y="756" width="1" height="13" fill="#c0c0c0"/>
<rect x="597" y="754" width="1" height="15" fill="#c0c0c0"/>
<rect x="605" y="751" width="1" height="18" fill="#c0c0c0"/>
<rect x="613" y="749" width="1" height="20" fill="#c0c0c0"/>
<rect x="621" y="750" width="1" height="19" fill="#c0c0c0"/>
<rect x="629" y="751" width="1" height="18" fill="#c0c0c0"/>
<rect x="637" y="744" width="1" height="25" fill="#c0c0c0"/>
<rect x="645" y="739" width="1" height="30" fill="#c0c0c0"/>
<rect x="653" y="733" width="1" height="36" fill="#c0c0c0"/>
<rect x="661" y="728" width="1" height="41" fill="#c0c0c0"/>
<rect x="669" y="725" width="1" height="44" fill="#c0c0c0"/>
<rect x="677" y="720" width="1" height="49" fill="#c0c0c0"/>
<rect x="685" y="730" width="1" height="39" fill="#c0c0c0"/>
<rect x="693" y="740" width="1" height="29" fill="#c0c0c0"/>
<rect x="701" y="744" width="1" height="25" fill="#c0c0c0"/>
<rect x="709" y="745" width="1" height="24" fill="#c0c0c0"/>
<rect x="717" y="748" width="1" height="21" fill="#c0c0c0"/>
<rect x="725" y="750" width="1" height="19" fill="#c0c0c0"/>
<rect x="733" y="760" width="1" height="9" fill="#c0c0c0"/>
<rect x="741" y="766" width="1" height="3" fill="#c0c0c0"/>
<rect x="749" y="768" width="1" height="4" fill="#c0c0c0"/>
<rect x="757" y="768" width="1" height="7" fill="#c0c0c0"/>
<rect x="765" y="768" width="1" height="9" fill="#c0c0c0"/>
<rect x="773" y="768" width="1" height="6" fill="#c0c0c0"/>
<rect x="781" y="768" width="1" height="5" fill="#c0c0c0"/>
<rect x="789" y="768" width="1" height="5" fill="#c0c0c0"/>
<rect x="797" y="768" width="1" height="5" fill="#c0c0c0"/>
<rect x="805" y="768" width="1" height="5" fill="#c0c0c0"/>
<rect x="813" y="768" width="1" height="6" fill="#c0c0c0"/>
<rect x="821" y="768" width="1" height="1" fill="#c0c0c0"/>
<rect x="829" y="768" width="1" height="1" fill="#c0c0c0"/>
<rect x="837" y="768" width="1" height="1" fill="#c0c0c0"/>
<rect x="845" y="768" width="1" height="1" fill="#c0c0c0"/>
<rect x="853" y="768" width="1" height="4" fill="#c0c0c0"/>
<rect x="861" y="768" width="1" height="13" fill="#c0c0c0"/>
<rect x="869" y="768" width="1" height="21" fill="#c0c0c0"/>
<rect x="877" y="768" width="1" height="24" fill="#c0c0c0"/>
<rect x="885" y="768" width="1" height="25" fill="#c0c0c0"/>
<rect x="893" y="768" width="1" height="25" fill="#c0c0c0"/>
<rect x="901" y="768" width="1" height="27" fill="#c0c0c0"/>
<rect x="909" y="768" width="1" height="29" fill="#c0c0c0"/>
<rect x="917" y="768" width="1" height="30" fill="#c0c0c0"/>
<rect x="925" y="768" width="1" height="30" fill="#c0c0c0"/>
<rect x="933" y="768" width="1" height="30" fill="#c0c0c0"/>
<rect x="941" y="768" width="1" height="25" fill="#c0c0c0"/>
<rect x="949" y="768" width="1" height="22" fill="#c0c0c0"/>
<rect x="957" y="768" width="1" height="22" fill="#c0c0c0"/>
<rect x="965" y="768" width="1" height="21" fill="#c0c0c0"/>
<rect x="973" y="768" width="1" height="20" fill="#c0c0c0"/>
<rect x="981" y="768" width="1" height="19" fill="#c0c0c0"/>
<rect x="989" y="768" width="1" height="19" fill="#c0c0c0"/>
<rect x="997" y="768" width="1" height="18" fill="#c0c0c0"/>
<rect x="1005" y="768" width="1" height="11" fill="#c0c0c0"/>
<rect x="1013" y="768" width="1" height="4" fill="#c0c0c0"/>
<rect x="1021" y="768" width="1" height="1" fill="#c0c0c0"/>
<rect x="1029" y="765" width="1" height="4" fill="#c0c0c0"/>
<rect x="1037" y="761" width="1" height="8" fill="#c0c0c0"/>
<rect x="1045" y="757" width="1" height="12" fill="#c0c0c0"/>
<rect x="1053" y="755" width="1" height="14" fill="#c0c0c0"/>
<rect x="1061" y="755" width="1" height="14" fill="#c0c0c0"/>
<rect x="1069" y="755" width="1" height="14" fill="#c0c0c0"/>
<rect x="1077" y="753" width="1" height="16" fill="#c0c0c0"/>
<rect x="1085" y="749" width="1" height="20" fill="#c0c0c0"/>
<rect x="1093" y="748" width="1" height="21" fill="#c0c0c0"/>
<rect x="1101" y="748" width="1" height="21" fill="#c0c0c0"/>
<rect x="1109" y="749" width="1" height="20" fill="#c0c0c0"/>
<rect x="1117" y="752" width="1" height="17" fill="#c0c0c0"/>
<rect x="1125" y="756" width="1" height="13" fill="#c0c0c0"/>
<rect x="1133" y="755" width="1" height="14" fill="#c0c0c0"/>
<rect x="1141" y="760" width="1" height="9" fill="#c0c0c0"/>
<rect x="1149" y="759" width="1" height="10" fill="#c0c0c0"/>
<rect x="1157" y="758" width="1" height="11" fill="#c0c0c0"/>
<rect x="1165" y="751" width="1" height="18" fill="#c0c0c0"/>
<rect x="1173" y="747" width="1" height="22" fill="#c0c0c0"/>
<rect x="1181" y="742" width="1" height="27" fill="#c0c0c0"/>
<rect x="1189" y="741" width="1" height="28" fill="#c0c0c0"/>
<rect x="1197" y="747" width="1" height="22" fill="#c0c0c0"/>
<rect x="1205" y="752" width="1" height="17" fill="#c0c0c0"/>
<rect x="1213" y="753" width="1" height="16" fill="#c0c0c0"/>
<rect x="1221" y="754" width="1" height="15" fill="#c0c0c0"/>
<rect x="1229" y="756" width="1" height="13" fill="#c0c0c0"/>
<rect x="1237" y="756" width="1" height="13" fill="#c0c0c0"/>
<rect x="1245" y="759" width="1" height="10" fill="#c0c0c0"/>
<rect x="1253" y="759" width="1" height="10" fill="#c0c0c0"/>
<rect x="1261" y="763" width="1" height="6" fill="#c0c0c0"/>
<rect x="1269" y="765" width="1" height="4" fill="#c0c0c0"/>
<rect x="1277" y="767" width="1" height="2" fill="#c0c0c0"/>
<rect x="1285" y="768" width="1" height="1" fill="#c0c0c0"/>
<rect x="1293" y="767" width="1" height="2" fill="#c0c0c0"/>
<path d="M365 710.5h3M371 710.5h3M377 710.5h3M383 710.5h3M389 710.5h2M354 711.5h2M359 711.5h3M234 712.5h2M239 712.5h3M245 712.5h3M251 712.5h3M257 712.5h3M263 712.5h2M348 712.5h2M395 712.5h3M269 713.5h3M401 713.5h3M227 714.5h2M275 714.5h3M407 714.5h3M281 715.5h3M341 715.5h2M287 716.5h3M330 716.5h2M335 716.5h3M414 716.5h2M221 717.5h2M293 717.5h3M299 717.5h3M317 717.5h3M323 717.5h3M210 718.5h2M215 718.5h3M305 718.5h3M311 718.5h3M203 719.5h3M420 719.5h2M197 720.5h3M192 721.5h2M186 722.5h2M426 722.5h2M180 723.5h2M431 724.5h3M173 725.5h3M437 725.5h2M155 726.5h3M161 726.5h3M167 726.5h3M138 727.5h2M143 727.5h3M149 727.5h3M125 728.5h3M131 728.5h3M444 728.5h2M120 729.5h2M449 729.5h2M114 730.5h2M107 731.5h3M455 731.5h3M90 732.5h2M95 732.5h3M101 732.5h3M461 732.5h2M77 733.5h3M83 733.5h3M689 733.5h3M695 733.5h3M701 733.5h3M707 733.5h3M59 734.5h3M65 734.5h3M71 734.5h3M683 734.5h2M713 734.5h3M719 734.5h2M35 735.5h3M41 735.5h3M47 735.5h3M53 735.5h3M468 735.5h2M29 736.5h3M473 736.5h2M726 736.5h2M18 737.5h2M23 737.5h3M677 737.5h2M12 738.5h2M479 738.5h3M485 739.5h2M671 739.5h3M732 739.5h2M5 741.5h2M666 741.5h2M492 742.5h2M737 742.5h2M497 743.5h2M660 743.5h2M504 746.5h2M653 746.5h2M1229 748.5h3M510 749.5h2M647 749.5h2M1211 749.5h3M1217 749.5h3M1223 749.5h3M1235 749.5h3M750 750.5h2M1194 750.5h2M1199 750.5h3M1205 750.5h3M1241 750.5h3M641 751.5h3M1109 751.5h3M1115 751.5h3M1121 751.5h3M1127 751.5h3M1133 751.5h3M1139 751.5h3M1187 751.5h3M1247 751.5h3M516 752.5h2M636 752.5h2M1104 752.5h2M1145 752.5h3M1151 752.5h2M1181 752.5h3M1253 752.5h2M756 753.5h2M1098 753.5h2M1157 753.5h3M1163 753.5h3M1169 753.5h3M1175 753.5h3M629 754.5h3M1092 754.5h2M522 755.5h2M1260 755.5h2M623 756.5h3M1085 756.5h3M1265 756.5h2M1271 757.5h2M528 758.5h2M617 758.5h3M1277 758.5h2M1079 759.5h2M533 760.5h2M611 760.5h2M767 760.5h2M1283 760.5h3M1073 761.5h3M1289 761.5h2M773 762.5h2M1068 762.5h2M540 763.5h2M605 763.5h2M545 765.5h3M599 765.5h3M780 765.5h2M1061 765.5h2M551 767.5h2M593 767.5h3M785 767.5h3M588 768.5h2M1055 768.5h2M557 769.5h3M791 769.5h2M563 770.5h3M569 770.5h3M575 770.5h3M581 770.5h3M1050 770.5h2M797 771.5h3M845 771.5h3M851 771.5h3M803 772.5h3M834 772.5h2M839 772.5h3M857 772.5h2M809 773.5h3M815 773.5h3M821 773.5h3M827 773.5h3M863 773.5h2M1043 773.5h2M869 774.5h2M1037 776.5h2M876 777.5h2M881 778.5h2M887 779.5h2M1031 779.5h2M894 781.5h2M1025 781.5h3M1020 782.5h2M900 784.5h2M1013 784.5h3M905 785.5h3M1007 786.5h3M1001 788.5h3M995 789.5h3M917 790.5h2M989 790.5h3M983 791.5h3M977 792.5h3M924 793.5h2M971 793.5h3M929 794.5h3M935 794.5h2M954 794.5h2M959 794.5h3M965 794.5h3M941 795.5h3M947 795.5h3M7.5 740v1M11.5 739v1M17.5 738v1M89.5 733v1M113.5 731v1M119.5 730v1M137.5 728v1M179.5 724v1M185.5 723v1M191.5 722v1M209.5 719v1M223.5 716v1M229.5 713v1M233.5 713v1M265.5 713v1M329.5 717v1M343.5 714v1M347.5 713v1M353.5 712v1M391.5 711v1M413.5 715v1M419.5 718v1M425.5 721v1M439.5 726v1M443.5 727v1M451.5 730v1M463.5 733v1M467.5 734v1M475.5 737v1M487.5 740v1M491.5 741v1M499.5 744v1M503.5 745v1M509.5 748v1M515.5 751v1M521.5 754v1M527.5 757v1M535.5 761v1M539.5 762v1M553.5 768v1M587.5 769v1M607.5 762v1M613.5 759v1M635.5 753v1M649.5 748v1M655.5 745v1M659.5 744v1M665.5 742v1M679.5 736v1M685.5 733v1M721.5 735v1M725.5 735v1M731.5 738v1M739.5 743v1M743.5 745v1M744.5 746v1M745.5 747v1M749.5 749v1M755.5 752v1M761.5 756v1M762.5 757v1M763.5 758v1M769.5 761v1M775.5 763v1M779.5 764v1M793.5 770v1M833.5 773v1M859.5 773v1M865.5 774v1M871.5 775v1M875.5 776v1M883.5 779v1M889.5 780v1M893.5 780v1M899.5 783v1M911.5 786v1M912.5 787v1M913.5 788v1M919.5 791v1M923.5 792v1M937.5 795v1M953.5 795v1M1019.5 783v1M1033.5 778v1M1039.5 775v1M1045.5 772v1M1049.5 771v1M1057.5 767v1M1063.5 764v1M1067.5 763v1M1081.5 758v1M1091.5 755v1M1097.5 754v1M1103.5 753v1M1153.5 753v1M1193.5 751v1M1255.5 753v1M1259.5 754v1M1267.5 757v1M1273.5 758v1M1279.5 759v1M1291.5 762v1" fill="none" stroke="#ff0000" stroke-width="1"/>
<text x="9" y="712" font-size="10" fill="#000" text-anchor="start" textLength="148" lengthAdjust="spacingAndGlyphs">MACD(12,26,9) 0.000163 0.000826</text>
<rect x="1631" y="701" width="1" height="1" fill="#000"/>
<rect x="1631" y="768" width="1" height="1" fill="#000"/>
<rect x="1631" y="801" width="1" height="1" fill="#000"/>
<text x="1634" y="710" font-size="10" fill="#000" text-anchor="start" textLength="37.5" lengthAdjust="spacingAndGlyphs">0.008782</text>
<text x="1634" y="772" font-size="10" fill="#000" text-anchor="start" textLength="17.5" lengthAdjust="spacingAndGlyphs">0.00</text>
<text x="1634" y="800" font-size="10" fill="#000" text-anchor="start" textLength="41" lengthAdjust="spacingAndGlyphs">-0.004451</text>
<rect x="5" y="803" width="1" height="3" fill="#000"/>
<text x="4" y="815" font-size="10" fill="#000" text-anchor="start" textLength="54" lengthAdjust="spacingAndGlyphs">17 Nov 2020</text>
<rect x="69" y="803" width="1" height="3" fill="#000"/>
<text x="68" y="815" font-size="10" fill="#000" text-anchor="start" textLength="54" lengthAdjust="spacingAndGlyphs">26 Nov 2020</text>
<rect x="133" y="803" width="1" height="3" fill="#000"/>
<text x="132" y="815" font-size="10" fill="#000" text-anchor="start" textLength="47.5" lengthAdjust="spacingAndGlyphs">5 Dec 2020</text>
<rect x="197" y="803" width="1" height="3" fill="#000"/>
<text x="196" y="815" font-size="10" fill="#000" text-anchor="start" textLength="52.5" lengthAdjust="spacingAndGlyphs">15 Dec 2020</text>
<rect x="261" y="803" width="1" height="3" fill="#000"/>
<text x="260" y="815" font-size="10" fill="#000" text-anchor="start" textLength="52.5" lengthAdjust="spacingAndGlyphs">24 Dec 2020</text>
<rect x="325" y="803" width="1" height="3" fill="#000"/>
<text x="324" y="815" font-size="10" fill="#000" text-anchor="start" textLength="45.4" lengthAdjust="spacingAndGlyphs">5 Jan 2021</text>
<rect x="389" y="803" width="1" height="3" fill="#000"/>
<text x="388" y="815" font-size="10" fill="#000" text-anchor="start" textLength="50.4" lengthAdjust="spacingAndGlyphs">14 Jan 2021</text>
<rect x="453" y="803" width="1" height="3" fill="#000"/>
<text x="452" y="815" font-size="10" fill="#000" text-anchor="start" textLength="50.4" lengthAdjust="spacingAndGlyphs">23 Jan 2021</text>
<rect x="517" y="803" width="1" height="3" fill="#000"/>
<text x="516" y="815" font-size="10" fill="#000" text-anchor="start" textLength="47" lengthAdjust="spacingAndGlyphs">2 Feb 2021</text>
<rect x="581" y="803" width="1" height="3" fill="#000"/>
<text x="580" y="815" font-size="10" fill="#000" text-anchor="start" textLength="52" lengthAdjust="spacingAndGlyphs">11 Feb 2021</text>
<rect x="645" y="803" width="1" height="3" fill="#000"/>
<text x="644" y="815" font-size="10" fill="#000" text-anchor="start" textLength="52" lengthAdjust="spacingAndGlyphs">20 Feb 2021</text>
<rect x="709" y="803" width="1" height="3" fill="#000"/>
<text x="708" y="815" font-size="10" fill="#000" text-anchor="start" textLength="47.2" lengthAdjust="spacingAndGlyphs">2 Mar 2021</text>
<rect x="773" y="803" width="1" height="3" fill="#000"/>
<text x="772" y="815" font-size="10" fill="#000" text-anchor="start" textLength="52.2" lengthAdjust="spacingAndGlyphs">11 Mar 2021</text>
<rect x="837" y="803" width="1" height="3" fill="#000"/>
<text x="836" y="815" font-size="10" fill="#000" text-anchor="start" textLength="52.2" lengthAdjust="spacingAndGlyphs">20 Mar 2021</text>
<rect x="901" y="803" width="1" height="3" fill="#000"/>
<text x="900" y="815" font-size="10" fill="#000" text-anchor="start" textLength="52.2" lengthAdjust="spacingAndGlyphs">30 Mar 2021</text>
<rect x="965" y="803" width="1" height="3" fill="#000"/>
<text x="964" y="815" font-size="10" fill="#000" text-anchor="start" textLength="46.1" lengthAdjust="spacingAndGlyphs">8 Apr 2021</text>
<rect x="1029" y="803" width="1" height="3" fill="#000"/>
<text x="1028" y="815" font-size="10" fill="#000" text-anchor="start" textLength="51.1" lengthAdjust="spacingAndGlyphs">17 Apr 2021</text>
<rect x="1093" y="803" width="1" height="3" fill="#000"/>
<text x="1092" y="815" font-size="10" fill="#000" text-anchor="start" textLength="51.1" lengthAdjust="spacingAndGlyphs">27 Apr 2021</text>
<rect x="1157" y="803" width="1" height="3" fill="#000"/>
<text x="1156" y="815" font-size="10" fill="#000" text-anchor="start" textLength="50.3" lengthAdjust="spacingAndGlyphs">6 May 2021</text>
<rect x="1221" y="803" width="1" height="3" fill="#000"/>
<text x="1220" y="815" font-size="10" fill="#000" text-anchor="start" textLength="55.3" lengthAdjust="spacingAndGlyphs">15 May 2021</text>
<rect x="1285" y="803" width="1" height="3" fill="#000"/>
<text x="1284" y="815" font-size="10" fill="#000" text-anchor="start" textLength="55.3" lengthAdjust="spacingAndGlyphs">25 May 2021</text>
<rect x="0" y="823" width="1672" height="1" fill="#e3e3e3"/>
<rect x="0" y="825" width="1672" height="1" fill="#000"/>
<rect x="0" y="826" width="1672" height="19" fill="#f0f0f0"/>
<rect x="0" y="826" width="1" height="18" fill="#a8a8a8"/>
<rect x="1" y="826" width="1" height="17" fill="#6a6a6a"/>
<rect x="0" y="845" width="1672" height="1" fill="#fff"/>
<rect x="0" y="846" width="1672" height="3" fill="#f4f4f4"/>
<rect x="0" y="849" width="1672" height="1" fill="#a0a0a0"/>
<rect x="0" y="850" width="1672" height="1" fill="#f0f0f0"/>
<rect x="314" y="825" width="104" height="19" fill="#fff"/>
<rect x="314" y="825" width="1" height="19" fill="#000"/>
<rect x="417" y="825" width="1" height="19" fill="#000"/>
<rect x="314" y="843" width="104" height="1" fill="#000"/>
<rect x="315" y="825" width="102" height="1" fill="#fff"/>
<text x="16" y="840" font-size="12.2" fill="#6d6d6d" text-anchor="start">USDCHF,Daily</text>
<text x="116" y="840" font-size="12.2" fill="#6d6d6d" text-anchor="start">USDCNH,Daily</text>
<text x="222" y="840" font-size="12.2" fill="#6d6d6d" text-anchor="start">EURUSD,Daily</text>
<text x="325" y="840" font-size="12.2" fill="#000" text-anchor="start">AUDUSD,Daily</text>
<text x="429" y="840" font-size="12.2" fill="#6d6d6d" text-anchor="start">USDCAD,Daily</text>
<text x="532" y="840" font-size="12.2" fill="#6d6d6d" text-anchor="start">XAUUSD,Weekly</text>
<text x="648" y="840" font-size="12.2" fill="#6d6d6d" text-anchor="start">USOil,Daily</text>
<rect x="106" y="828" width="1" height="14" fill="#6d6d6d"/>
<rect x="210" y="828" width="1" height="14" fill="#6d6d6d"/>
<rect x="522" y="828" width="1" height="14" fill="#6d6d6d"/>
<rect x="638" y="828" width="1" height="14" fill="#6d6d6d"/>
<rect x="722" y="828" width="1" height="14" fill="#6d6d6d"/>
<g shape-rendering="geometricPrecision"><path d="M1646 834 l3 -3.2 v6.4 z" fill="#8c8c8c"/><path d="M1668.3 834 l-3 -3.2 v6.4 z" fill="#8c8c8c"/></g>
</svg>
</body></html>
